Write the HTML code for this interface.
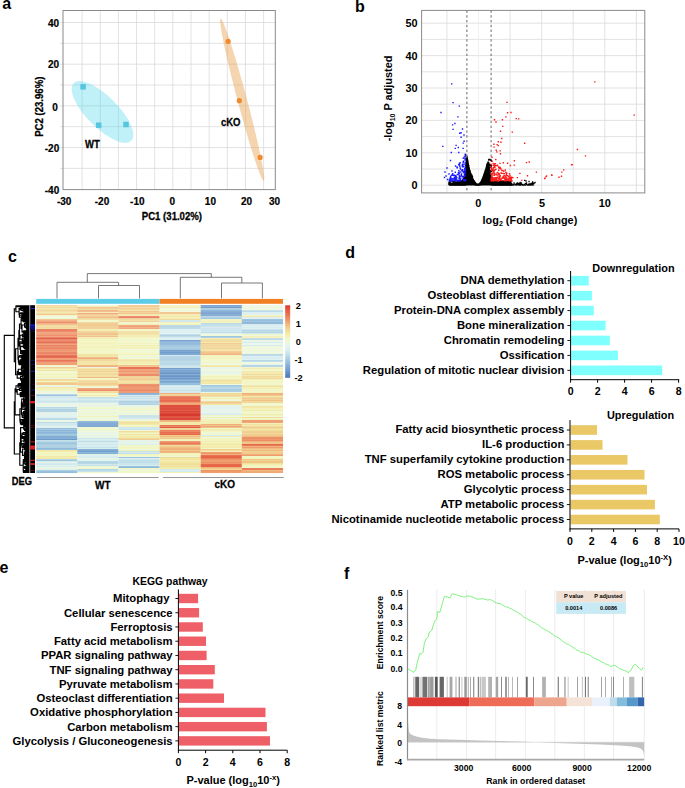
<!DOCTYPE html>
<html><head><meta charset="utf-8"><title>Figure</title>
<style>
html,body{margin:0;padding:0;background:#fff;width:685px;height:788px;overflow:hidden}
svg{display:block}
text{font-family:"Liberation Sans", sans-serif}
</style></head><body>
<svg width="685" height="788" viewBox="0 0 685 788">
<text x="2.20" y="8.80" font-size="16" text-anchor="start" font-weight="bold" fill="#000" >a</text>
<line x1="82.10" y1="10.50" x2="82.10" y2="189.60" stroke="#dadada" stroke-width="0.8" />
<line x1="100.25" y1="10.50" x2="100.25" y2="189.60" stroke="#dadada" stroke-width="0.8" />
<line x1="118.40" y1="10.50" x2="118.40" y2="189.60" stroke="#dadada" stroke-width="0.8" />
<line x1="136.55" y1="10.50" x2="136.55" y2="189.60" stroke="#dadada" stroke-width="0.8" />
<line x1="154.70" y1="10.50" x2="154.70" y2="189.60" stroke="#dadada" stroke-width="0.8" />
<line x1="172.85" y1="10.50" x2="172.85" y2="189.60" stroke="#dadada" stroke-width="0.8" />
<line x1="191.00" y1="10.50" x2="191.00" y2="189.60" stroke="#dadada" stroke-width="0.8" />
<line x1="209.15" y1="10.50" x2="209.15" y2="189.60" stroke="#dadada" stroke-width="0.8" />
<line x1="227.30" y1="10.50" x2="227.30" y2="189.60" stroke="#dadada" stroke-width="0.8" />
<line x1="245.45" y1="10.50" x2="245.45" y2="189.60" stroke="#dadada" stroke-width="0.8" />
<line x1="263.60" y1="10.50" x2="263.60" y2="189.60" stroke="#dadada" stroke-width="0.8" />
<line x1="60.00" y1="22.50" x2="275.30" y2="22.50" stroke="#dadada" stroke-width="0.8" />
<line x1="60.00" y1="43.34" x2="275.30" y2="43.34" stroke="#dadada" stroke-width="0.8" />
<line x1="60.00" y1="64.18" x2="275.30" y2="64.18" stroke="#dadada" stroke-width="0.8" />
<line x1="60.00" y1="85.02" x2="275.30" y2="85.02" stroke="#dadada" stroke-width="0.8" />
<line x1="60.00" y1="105.86" x2="275.30" y2="105.86" stroke="#dadada" stroke-width="0.8" />
<line x1="60.00" y1="126.70" x2="275.30" y2="126.70" stroke="#dadada" stroke-width="0.8" />
<line x1="60.00" y1="147.54" x2="275.30" y2="147.54" stroke="#dadada" stroke-width="0.8" />
<line x1="60.00" y1="168.38" x2="275.30" y2="168.38" stroke="#dadada" stroke-width="0.8" />
<rect x="63.0" y="10.5" width="212.30" height="179.10" fill="none" stroke="#8a8a8a" stroke-width="1"/>
<text x="59.20" y="26.50" font-size="10" text-anchor="end" font-weight="bold" fill="#000" stroke="#000" stroke-width="0.2">40</text>
<text x="59.20" y="68.20" font-size="10" text-anchor="end" font-weight="bold" fill="#000" stroke="#000" stroke-width="0.2">20</text>
<text x="57.90" y="110.50" font-size="10" text-anchor="end" font-weight="bold" fill="#000" stroke="#000" stroke-width="0.2">0</text>
<text x="59.20" y="151.50" font-size="10" text-anchor="end" font-weight="bold" fill="#000" stroke="#000" stroke-width="0.2">-20</text>
<text x="59.20" y="193.60" font-size="10" text-anchor="end" font-weight="bold" fill="#000" stroke="#000" stroke-width="0.2">-40</text>
<text x="64.20" y="205.20" font-size="10" text-anchor="middle" font-weight="bold" fill="#000" stroke="#000" stroke-width="0.2">-30</text>
<text x="102.00" y="205.20" font-size="10" text-anchor="middle" font-weight="bold" fill="#000" stroke="#000" stroke-width="0.2">-20</text>
<text x="137.30" y="205.20" font-size="10" text-anchor="middle" font-weight="bold" fill="#000" stroke="#000" stroke-width="0.2">-10</text>
<text x="172.40" y="205.20" font-size="10" text-anchor="middle" font-weight="bold" fill="#000" stroke="#000" stroke-width="0.2">0</text>
<text x="210.40" y="205.20" font-size="10" text-anchor="middle" font-weight="bold" fill="#000" stroke="#000" stroke-width="0.2">10</text>
<text x="246.50" y="205.20" font-size="10" text-anchor="middle" font-weight="bold" fill="#000" stroke="#000" stroke-width="0.2">20</text>
<text x="274.50" y="205.20" font-size="10" text-anchor="middle" font-weight="bold" fill="#000" stroke="#000" stroke-width="0.2">30</text>
<text x="0" y="0" transform="translate(141.80,220.00) scale(1,1.15)" font-size="9.6" text-anchor="start" font-weight="bold" fill="#000" stroke="#000" stroke-width="0.25">PC1 (31.02%)</text>
<text x="0" y="0" font-size="9.6" font-weight="bold" text-anchor="middle" transform="translate(43.0,106.7) rotate(-90) scale(1,1.13)" stroke="#000" stroke-width="0.25">PC2 (23.96%)</text>
<ellipse cx="102.5" cy="112" rx="40.8" ry="15.6" transform="rotate(45 102.5 112)" fill="#48d6ea" fill-opacity="0.34"/>
<rect x="80.35" y="84.05" width="5.50" height="5.50" fill="#56c6df" />
<rect x="95.95" y="122.45" width="5.50" height="5.50" fill="#56c6df" />
<rect x="123.25" y="121.75" width="5.50" height="5.50" fill="#56c6df" />
<text x="0" y="0" transform="translate(85.10,147.80) scale(1,1.15)" font-size="9.5" text-anchor="start" font-weight="bold" fill="#000" stroke="#000" stroke-width="0.25">WT</text>
<ellipse cx="242.2" cy="99.8" rx="84" ry="4.7" transform="rotate(75.1 242.2 99.8)" fill="#e8a050" fill-opacity="0.45"/>
<circle cx="228.1" cy="41.3" r="2.6" fill="#f08a2c"/>
<circle cx="239.3" cy="100.7" r="2.6" fill="#f08a2c"/>
<circle cx="260.1" cy="157.4" r="2.6" fill="#f08a2c"/>
<text x="0" y="0" transform="translate(221.00,126.00) scale(1,1.15)" font-size="9.5" text-anchor="start" font-weight="bold" fill="#000" stroke="#000" stroke-width="0.25">cKO</text>
<text x="355.00" y="11.70" font-size="16" text-anchor="start" font-weight="bold" fill="#000" >b</text>
<line x1="421.60" y1="185.20" x2="644.80" y2="185.20" stroke="#dadada" stroke-width="0.8" />
<line x1="421.60" y1="169.00" x2="644.80" y2="169.00" stroke="#dadada" stroke-width="0.8" />
<line x1="421.60" y1="152.80" x2="644.80" y2="152.80" stroke="#dadada" stroke-width="0.8" />
<line x1="421.60" y1="136.60" x2="644.80" y2="136.60" stroke="#dadada" stroke-width="0.8" />
<line x1="421.60" y1="120.40" x2="644.80" y2="120.40" stroke="#dadada" stroke-width="0.8" />
<line x1="421.60" y1="104.20" x2="644.80" y2="104.20" stroke="#dadada" stroke-width="0.8" />
<line x1="421.60" y1="88.00" x2="644.80" y2="88.00" stroke="#dadada" stroke-width="0.8" />
<line x1="421.60" y1="71.80" x2="644.80" y2="71.80" stroke="#dadada" stroke-width="0.8" />
<line x1="421.60" y1="55.60" x2="644.80" y2="55.60" stroke="#dadada" stroke-width="0.8" />
<line x1="421.60" y1="39.40" x2="644.80" y2="39.40" stroke="#dadada" stroke-width="0.8" />
<line x1="421.60" y1="23.20" x2="644.80" y2="23.20" stroke="#dadada" stroke-width="0.8" />
<line x1="446.93" y1="10.40" x2="446.93" y2="192.90" stroke="#dadada" stroke-width="0.8" />
<line x1="478.50" y1="10.40" x2="478.50" y2="192.90" stroke="#ececec" stroke-width="0.8" />
<line x1="510.07" y1="10.40" x2="510.07" y2="192.90" stroke="#dadada" stroke-width="0.8" />
<line x1="541.65" y1="10.40" x2="541.65" y2="192.90" stroke="#dadada" stroke-width="0.8" />
<line x1="573.23" y1="10.40" x2="573.23" y2="192.90" stroke="#dadada" stroke-width="0.8" />
<line x1="604.80" y1="10.40" x2="604.80" y2="192.90" stroke="#dadada" stroke-width="0.8" />
<line x1="636.38" y1="10.40" x2="636.38" y2="192.90" stroke="#dadada" stroke-width="0.8" />
<line x1="466.90" y1="10.40" x2="466.90" y2="192.90" stroke="#666" stroke-width="1" stroke-dasharray="2.4 2.4"/>
<line x1="491.10" y1="10.40" x2="491.10" y2="192.90" stroke="#666" stroke-width="1" stroke-dasharray="2.4 2.4"/>
<rect x="421.6" y="10.4" width="223.20" height="182.50" fill="none" stroke="#8a8a8a" stroke-width="1"/>
<text x="417.50" y="189.10" font-size="10.9" text-anchor="end" font-weight="bold" fill="#000" >0</text>
<text x="417.50" y="156.70" font-size="10.9" text-anchor="end" font-weight="bold" fill="#000" >10</text>
<text x="417.50" y="124.30" font-size="10.9" text-anchor="end" font-weight="bold" fill="#000" >20</text>
<text x="417.50" y="91.90" font-size="10.9" text-anchor="end" font-weight="bold" fill="#000" >30</text>
<text x="417.50" y="59.50" font-size="10.9" text-anchor="end" font-weight="bold" fill="#000" >40</text>
<text x="417.50" y="27.10" font-size="10.9" text-anchor="end" font-weight="bold" fill="#000" >50</text>
<text x="478.20" y="206.60" font-size="10.9" text-anchor="middle" font-weight="bold" fill="#000" >0</text>
<text x="542.00" y="206.60" font-size="10.9" text-anchor="middle" font-weight="bold" fill="#000" >5</text>
<text x="604.80" y="206.60" font-size="10.9" text-anchor="middle" font-weight="bold" fill="#000" >10</text>
<text x="482.6" y="224" font-size="10.9" font-weight="bold">log<tspan font-size="7" dy="2.2">2</tspan><tspan dy="-2.2"> (Fold change)</tspan></text>
<text x="0" y="0" font-size="10.9" font-weight="bold" text-anchor="middle" transform="translate(392.4,98.5) rotate(-90)">-log<tspan font-size="7" dy="2.2">10</tspan><tspan dy="-2.2"> P adjusted</tspan></text>
<polygon points="449,185.6 450.5,183 455,182.2 460,181.2 462.5,179.2 464,175 465,169 465.8,162 466.6,157 467.4,155.5 468.4,160.5 469.5,167 470.6,171.5 472.2,176 474.2,180.2 476.3,183.2 478.6,183.6 480.6,181.6 482.2,177.5 483.8,173 485.3,168.5 486.5,163.5 488,161 489.5,162.5 490.2,170 491,177 495,181.2 503,181.8 509,182.8 512,184 512,185.6" fill="#000"/>
<path d="M486.7 171.0h1.3M491.5 183.3h1.3M463.9 183.7h1.3M501.9 182.2h1.3M456.2 184.5h1.3M455.9 182.1h1.3M507.3 185.2h1.3M531.9 183.8h1.3M500.6 184.9h1.3M449.4 183.6h1.3M453.2 184.9h1.3M468.8 183.7h1.3M487.7 171.1h1.3M502.8 183.7h1.3M504.6 183.9h1.3M471.9 176.8h1.3M533.1 183.7h1.3M475.0 184.5h1.3M472.8 184.2h1.3M529.8 185.2h1.3M466.0 159.5h1.3M488.2 159.6h1.3M482.1 184.0h1.3M501.8 182.3h1.3M471.2 183.3h1.3M476.5 184.9h1.3M469.2 181.9h1.3M453.3 182.2h1.3M463.3 183.4h1.3M486.3 179.0h1.3M510.6 185.0h1.3M503.0 185.0h1.3M484.0 181.0h1.3M471.2 175.1h1.3M481.8 179.3h1.3M502.9 185.1h1.3M470.2 174.3h1.3M476.2 185.0h1.3M454.4 185.1h1.3M497.8 184.7h1.3M499.4 184.2h1.3M486.8 164.2h1.3M489.4 167.6h1.3M461.3 181.6h1.3M464.4 182.5h1.3M529.2 184.0h1.3M484.1 182.6h1.3M451.5 181.2h1.3M468.5 170.7h1.3M470.1 173.5h1.3M499.0 184.5h1.3M463.1 182.6h1.3M454.0 184.7h1.3M495.9 181.9h1.3M500.5 184.6h1.3M449.6 184.6h1.3M486.2 182.5h1.3M463.2 184.3h1.3M496.9 185.0h1.3M479.0 183.8h1.3M531.8 183.7h1.3M498.0 185.0h1.3M451.2 185.2h1.3M525.8 182.8h1.3M450.0 183.1h1.3M489.3 164.4h1.3M475.4 183.6h1.3M454.6 183.5h1.3M511.0 183.6h1.3M508.2 182.2h1.3M506.6 181.6h1.3M515.6 184.1h1.3M501.4 184.2h1.3M497.8 183.2h1.3M455.0 183.0h1.3M532.9 183.6h1.3M481.3 180.8h1.3M497.7 184.0h1.3M499.4 183.8h1.3M467.8 168.9h1.3M490.6 166.8h1.3M449.1 184.5h1.3M506.0 184.8h1.3M462.6 181.6h1.3M504.4 184.0h1.3M504.9 184.8h1.3M484.9 172.1h1.3M526.1 184.6h1.3M497.9 184.5h1.3M459.8 183.7h1.3M519.5 183.6h1.3M462.6 183.9h1.3M471.6 182.1h1.3M483.5 177.4h1.3M490.3 173.6h1.3M519.7 184.4h1.3M454.5 185.2h1.3M508.6 183.4h1.3M474.5 182.8h1.3M449.8 185.0h1.3M486.9 183.5h1.3M460.2 185.2h1.3M501.8 183.9h1.3M501.9 183.0h1.3M517.0 183.7h1.3M465.2 166.9h1.3M463.4 185.2h1.3M488.4 164.7h1.3M463.4 184.6h1.3M477.6 185.1h1.3M492.5 183.2h1.3M515.7 185.1h1.3M527.7 185.1h1.3M486.8 169.6h1.3M496.7 181.7h1.3M516.1 184.4h1.3M503.7 184.8h1.3M509.7 182.1h1.3M502.9 182.6h1.3M466.4 160.8h1.3M531.8 184.2h1.3M525.7 184.7h1.3M455.2 184.0h1.3M495.1 182.4h1.3M489.7 183.1h1.3M476.7 185.0h1.3M460.1 185.0h1.3M492.2 182.6h1.3M519.8 182.8h1.3M490.2 160.2h1.3M455.5 184.8h1.3M493.1 184.5h1.3M510.3 183.0h1.3M492.7 181.9h1.3M495.9 184.5h1.3M480.7 181.5h1.3M520.7 184.2h1.3M497.0 184.8h1.3M493.9 183.7h1.3M499.8 185.2h1.3M482.3 178.5h1.3M496.2 183.8h1.3M507.1 185.1h1.3M494.1 184.1h1.3M529.7 184.8h1.3M488.5 179.1h1.3M485.1 171.4h1.3M475.2 184.6h1.3M500.8 181.5h1.3M459.2 182.3h1.3M450.1 184.8h1.3M467.5 168.4h1.3M475.6 184.6h1.3M501.0 185.1h1.3M510.5 185.0h1.3M491.7 184.7h1.3M465.0 165.5h1.3M485.4 176.7h1.3M483.4 178.3h1.3M461.8 184.8h1.3M502.0 183.1h1.3M493.3 181.9h1.3M500.3 181.9h1.3M468.0 168.8h1.3M517.3 184.7h1.3M475.0 183.3h1.3M466.8 160.5h1.3M468.6 170.6h1.3M470.3 182.7h1.3M482.5 178.8h1.3M449.7 184.8h1.3M506.3 181.5h1.3M491.3 182.4h1.3M491.0 165.3h1.3M464.3 185.1h1.3M457.2 185.2h1.3M495.2 183.6h1.3M496.7 185.0h1.3M463.9 184.8h1.3M519.8 182.9h1.3M456.3 185.1h1.3M488.0 168.9h1.3M484.8 174.7h1.3M449.3 182.7h1.3M486.9 167.5h1.3M482.7 182.4h1.3M462.2 183.7h1.3M449.5 181.6h1.3M516.5 183.1h1.3M501.8 184.1h1.3M499.3 183.7h1.3M531.9 184.9h1.3M525.9 183.4h1.3M524.6 183.7h1.3M513.6 184.5h1.3M509.8 185.1h1.3M477.3 185.2h1.3M449.1 184.3h1.3M502.6 183.1h1.3M468.0 165.7h1.3M505.0 184.4h1.3M504.4 183.4h1.3M493.6 184.2h1.3M533.4 183.7h1.3M513.1 185.2h1.3M500.6 182.5h1.3M470.0 178.1h1.3M452.5 184.8h1.3M480.2 184.5h1.3M469.6 171.2h1.3M495.1 183.7h1.3M533.0 183.3h1.3M454.7 183.3h1.3M488.4 177.7h1.3M490.4 166.8h1.3M453.2 181.3h1.3M484.0 177.2h1.3M499.1 184.3h1.3M472.5 180.1h1.3M496.0 184.6h1.3M509.3 184.5h1.3M449.4 184.7h1.3M451.8 184.9h1.3M524.7 185.2h1.3M532.5 185.1h1.3M488.9 159.8h1.3M468.9 174.4h1.3M528.1 184.4h1.3M531.6 184.0h1.3M458.0 183.1h1.3M487.0 177.8h1.3M452.6 183.6h1.3M458.8 184.0h1.3M505.1 183.9h1.3M470.5 176.9h1.3M483.9 174.9h1.3M493.4 181.0h1.3M529.4 184.9h1.3M457.9 181.6h1.3M515.0 184.6h1.3M471.3 177.6h1.3M496.3 183.3h1.3M502.1 182.4h1.3M464.4 184.7h1.3M531.7 183.1h1.3M451.5 185.1h1.3M471.3 179.7h1.3M501.3 185.1h1.3M494.3 185.1h1.3M455.5 182.9h1.3M495.1 183.1h1.3M480.0 183.4h1.3M466.1 172.3h1.3M511.7 185.1h1.3M458.4 182.1h1.3M501.3 182.4h1.3M466.3 170.8h1.3M470.2 173.9h1.3M479.6 183.4h1.3M494.9 182.5h1.3M479.6 184.7h1.3M455.2 183.4h1.3M489.5 165.3h1.3M473.6 181.5h1.3M454.7 184.8h1.3M504.6 185.1h1.3M474.1 182.3h1.3M507.3 184.6h1.3M460.4 184.3h1.3M510.1 184.3h1.3M458.2 182.7h1.3M496.7 181.5h1.3M528.3 184.4h1.3M475.2 184.3h1.3M527.9 184.9h1.3M479.0 184.5h1.3M479.1 184.3h1.3M481.2 183.5h1.3M496.2 182.2h1.3M494.3 182.0h1.3M496.1 184.9h1.3M512.9 184.8h1.3M450.1 183.6h1.3M494.6 183.4h1.3M530.6 183.3h1.3M453.6 183.5h1.3M455.1 182.5h1.3M502.2 185.0h1.3M511.8 184.9h1.3M467.0 165.3h1.3M492.6 182.4h1.3M481.8 182.1h1.3M530.7 184.3h1.3M494.0 182.6h1.3M508.5 181.5h1.3M483.2 176.4h1.3M505.0 181.9h1.3M516.9 183.0h1.3M529.8 184.2h1.3M508.7 182.2h1.3M484.1 178.2h1.3M460.6 182.5h1.3M462.5 184.8h1.3M484.4 179.4h1.3M474.5 184.6h1.3M503.4 182.3h1.3M463.5 185.1h1.3M487.3 169.2h1.3M457.4 184.9h1.3M466.7 176.1h1.3M509.3 183.3h1.3M467.3 178.2h1.3M472.1 182.9h1.3M494.9 182.1h1.3M489.0 175.1h1.3M523.8 184.7h1.3M494.8 181.3h1.3M489.3 176.2h1.3M452.4 181.3h1.3M493.1 183.6h1.3M471.6 176.1h1.3M504.2 184.7h1.3M449.1 183.8h1.3M479.8 182.9h1.3M509.0 183.2h1.3M461.6 184.9h1.3M475.6 184.7h1.3M502.5 181.0h1.3M470.9 178.1h1.3M461.0 182.4h1.3M448.3 182.1h1.3M520.3 185.1h1.3M471.2 177.1h1.3M456.5 183.8h1.3M488.1 160.1h1.3M498.2 181.9h1.3M474.1 182.1h1.3M483.7 174.3h1.3M455.9 182.0h1.3M465.9 167.0h1.3M493.0 184.9h1.3M474.7 184.8h1.3M474.2 183.2h1.3M509.1 184.3h1.3M506.7 185.1h1.3M481.8 181.4h1.3M530.6 183.8h1.3M449.2 184.2h1.3M508.7 184.7h1.3M496.3 183.9h1.3M449.1 181.0h1.3M500.7 184.5h1.3M480.2 183.0h1.3M473.6 183.1h1.3M481.6 180.5h1.3M470.0 180.8h1.3M510.5 184.4h1.3M509.9 184.4h1.3M460.2 185.1h1.3M505.9 182.7h1.3M463.5 184.1h1.3M455.9 184.7h1.3M461.6 185.0h1.3M482.9 183.7h1.3M491.8 183.0h1.3M513.5 184.6h1.3M476.4 185.0h1.3M449.5 184.1h1.3M507.8 181.1h1.3M515.5 184.0h1.3M449.8 184.4h1.3M477.3 185.2h1.3M457.2 184.2h1.3M491.6 182.3h1.3M518.5 185.0h1.3M513.5 184.1h1.3M478.2 184.8h1.3M460.3 182.7h1.3M509.2 182.0h1.3M465.0 155.6h1.3M501.6 184.8h1.3M455.3 184.7h1.3M497.3 182.7h1.3M476.2 184.7h1.3M479.0 184.4h1.3M458.7 181.2h1.3M459.7 181.6h1.3M494.5 183.4h1.3M495.9 184.6h1.3M525.7 183.3h1.3M499.4 185.0h1.3M497.1 182.0h1.3M464.0 183.5h1.3M454.7 185.2h1.3M463.5 181.1h1.3M528.3 184.8h1.3M505.4 182.5h1.3M480.7 182.2h1.3M465.2 167.1h1.3M460.4 184.2h1.3M496.7 184.9h1.3M492.5 184.6h1.3M496.6 184.4h1.3M502.9 185.2h1.3M505.4 185.0h1.3M530.0 184.4h1.3M483.2 177.8h1.3M506.9 182.4h1.3M533.0 183.2h1.3M483.0 179.8h1.3M496.4 181.6h1.3M493.0 183.6h1.3M485.0 170.7h1.3M475.5 185.0h1.3M510.0 181.6h1.3M510.6 183.3h1.3M498.8 185.1h1.3M458.8 183.9h1.3M491.0 171.6h1.3M452.6 182.8h1.3M493.0 184.7h1.3M474.3 183.5h1.3M468.3 182.3h1.3M525.9 183.8h1.3M494.0 181.3h1.3M448.2 184.7h1.3M473.7 183.2h1.3M453.5 181.6h1.3M478.6 184.6h1.3M452.1 185.2h1.3M490.7 160.5h1.3M465.8 173.0h1.3M526.8 185.0h1.3M488.5 177.6h1.3M523.2 185.0h1.3M502.1 184.8h1.3M457.2 182.6h1.3M474.9 183.1h1.3M522.3 185.1h1.3M507.5 181.4h1.3M486.1 182.0h1.3M467.2 175.1h1.3M508.7 184.8h1.3M463.6 184.7h1.3M504.8 182.2h1.3M479.9 183.1h1.3M467.7 176.0h1.3M527.2 184.8h1.3M502.7 185.1h1.3M493.2 183.6h1.3M452.0 183.2h1.3M472.4 182.5h1.3M472.5 179.5h1.3M469.1 178.5h1.3M494.9 184.9h1.3M524.6 185.2h1.3M487.5 165.3h1.3M481.0 180.6h1.3M490.8 177.4h1.3M495.6 183.0h1.3M478.8 184.3h1.3M491.3 181.9h1.3M506.5 183.6h1.3M500.0 184.7h1.3M485.7 170.3h1.3M515.2 184.9h1.3M489.9 176.2h1.3M497.6 183.7h1.3M451.2 183.3h1.3M509.1 183.4h1.3M461.1 185.2h1.3M490.5 170.7h1.3M485.8 178.1h1.3M494.5 182.2h1.3M468.5 180.4h1.3M474.7 184.9h1.3M475.0 183.7h1.3M493.0 184.6h1.3M498.4 185.1h1.3M469.9 181.3h1.3M507.1 182.0h1.3M483.2 180.2h1.3M466.6 160.5h1.3M451.8 183.8h1.3M513.1 185.1h1.3M487.0 167.1h1.3M451.5 184.7h1.3M481.7 182.5h1.3M484.4 183.0h1.3M451.1 181.0h1.3M513.2 184.9h1.3M469.8 175.7h1.3M468.8 175.0h1.3M476.9 185.1h1.3M500.2 185.2h1.3M482.5 179.0h1.3M453.2 184.4h1.3M507.4 181.8h1.3M498.5 181.7h1.3M487.6 172.4h1.3M477.8 185.1h1.3M495.0 184.9h1.3M465.5 175.2h1.3M488.0 173.8h1.3M486.3 165.5h1.3M506.1 181.8h1.3M465.6 170.3h1.3M454.4 182.8h1.3M479.1 184.6h1.3M449.8 184.9h1.3M470.5 178.9h1.3M526.9 184.8h1.3M479.0 184.8h1.3M513.4 183.0h1.3M449.9 184.4h1.3M480.9 184.4h1.3M452.9 184.2h1.3M468.5 183.2h1.3M461.0 183.3h1.3M450.9 184.5h1.3M484.3 176.5h1.3M459.8 182.7h1.3M470.4 175.2h1.3M505.0 185.0h1.3M465.6 173.2h1.3M508.9 184.1h1.3M481.1 180.6h1.3M467.4 175.8h1.3M477.6 185.2h1.3M451.6 185.2h1.3M501.9 183.4h1.3M517.1 184.8h1.3M505.3 181.5h1.3M466.6 165.7h1.3M505.0 181.3h1.3M502.1 185.1h1.3M484.6 177.8h1.3M453.3 184.2h1.3M476.1 184.8h1.3M472.0 183.0h1.3M482.5 180.3h1.3M462.4 182.9h1.3M468.6 181.8h1.3M477.3 185.2h1.3M461.0 183.3h1.3M508.0 183.5h1.3M507.9 185.2h1.3M481.5 182.2h1.3M453.5 184.1h1.3M452.8 183.7h1.3M498.1 183.8h1.3M475.9 184.9h1.3M450.2 184.3h1.3M470.5 176.0h1.3M464.0 183.8h1.3M500.6 181.3h1.3M479.1 184.1h1.3M528.5 183.9h1.3M501.1 184.1h1.3M483.6 180.6h1.3M518.9 184.6h1.3M459.8 183.7h1.3M474.5 183.8h1.3M464.6 184.7h1.3M506.2 184.7h1.3M448.2 183.5h1.3M481.8 182.8h1.3M490.3 166.0h1.3M494.9 183.1h1.3M496.0 182.0h1.3M477.7 185.0h1.3M474.9 183.4h1.3M507.5 182.8h1.3M530.3 185.0h1.3M501.2 183.8h1.3M496.2 184.3h1.3M472.5 179.6h1.3M493.7 184.7h1.3M469.4 178.2h1.3M463.3 183.6h1.3M458.9 185.1h1.3M454.0 185.1h1.3M508.3 185.0h1.3M486.7 167.6h1.3M489.2 177.9h1.3M522.0 185.2h1.3M469.8 176.4h1.3M509.2 184.7h1.3M509.2 184.4h1.3M476.6 185.0h1.3M520.0 184.1h1.3M484.0 175.4h1.3M501.3 182.0h1.3M480.3 182.5h1.3M467.9 178.9h1.3M449.3 183.3h1.3M528.4 185.1h1.3M506.8 184.1h1.3M502.0 184.1h1.3M527.7 185.2h1.3M509.0 185.0h1.3M451.8 184.6h1.3M510.5 181.0h1.3M458.4 184.4h1.3M450.4 183.5h1.3M489.4 172.2h1.3M474.5 182.8h1.3M481.6 180.9h1.3M513.4 184.6h1.3M507.3 183.5h1.3M463.1 185.1h1.3M489.8 179.3h1.3M475.8 185.1h1.3M496.4 185.0h1.3M501.5 184.6h1.3M467.6 172.2h1.3M479.4 184.4h1.3M452.5 185.1h1.3M454.9 184.9h1.3M489.4 159.3h1.3M465.4 158.0h1.3M489.5 171.2h1.3M453.1 183.5h1.3M504.2 183.1h1.3M471.8 176.9h1.3M521.9 184.4h1.3M519.2 185.0h1.3M450.5 184.9h1.3M458.3 185.1h1.3M478.8 184.2h1.3M474.6 183.5h1.3M449.1 184.8h1.3M493.1 182.1h1.3M515.7 184.5h1.3M516.6 183.5h1.3M508.3 184.7h1.3M497.3 184.7h1.3M481.3 182.5h1.3M504.2 182.1h1.3M479.3 183.9h1.3M478.4 184.9h1.3M456.2 184.4h1.3M506.2 184.9h1.3M457.2 185.0h1.3M478.0 185.0h1.3M449.0 183.7h1.3M482.6 181.4h1.3M494.0 181.3h1.3M465.6 158.5h1.3M475.5 184.1h1.3M457.4 181.1h1.3M484.8 170.6h1.3M466.9 172.3h1.3M508.4 184.9h1.3M471.5 178.0h1.3M463.8 184.3h1.3M502.3 184.2h1.3M503.1 184.8h1.3M500.7 181.7h1.3M521.2 184.3h1.3M496.6 185.0h1.3M519.6 184.4h1.3M504.9 184.1h1.3M481.0 183.5h1.3M499.4 183.4h1.3M492.1 185.2h1.3M501.7 183.9h1.3M498.8 183.3h1.3M488.1 159.4h1.3M511.0 184.5h1.3M468.1 167.7h1.3M503.5 181.4h1.3M518.9 184.3h1.3M522.3 184.9h1.3M493.9 181.8h1.3M464.9 172.6h1.3M503.0 185.1h1.3M495.5 182.3h1.3M490.0 175.6h1.3M516.4 183.4h1.3M495.0 181.6h1.3M479.4 184.8h1.3M451.3 184.3h1.3M521.9 185.1h1.3M463.7 184.2h1.3M520.6 183.0h1.3M454.3 181.1h1.3M465.8 164.6h1.3M522.9 185.0h1.3M505.2 184.0h1.3M449.5 184.4h1.3M475.1 183.8h1.3M471.9 179.3h1.3M507.4 184.9h1.3M459.1 182.8h1.3M487.9 179.0h1.3M458.1 181.4h1.3M500.2 184.3h1.3M464.9 154.5h1.3M507.1 182.5h1.3M478.9 184.6h1.3M483.0 182.7h1.3M502.0 184.0h1.3M487.1 171.1h1.3M508.2 184.7h1.3M497.6 184.6h1.3M521.0 184.4h1.3M511.5 184.4h1.3M453.6 184.1h1.3M472.2 180.8h1.3M507.4 182.9h1.3M469.0 176.2h1.3M459.4 181.6h1.3M469.6 177.1h1.3M477.3 185.2h1.3M494.7 185.1h1.3M479.2 184.4h1.3M509.8 182.9h1.3M477.5 185.1h1.3M502.1 183.8h1.3M479.0 184.3h1.3M475.1 183.8h1.3M499.8 181.2h1.3M531.4 184.6h1.3M518.8 183.7h1.3M487.6 172.3h1.3M504.1 184.8h1.3M479.7 184.6h1.3M481.8 179.8h1.3M455.3 184.9h1.3M503.5 183.1h1.3M517.3 183.4h1.3M458.4 183.8h1.3M449.5 181.8h1.3M528.7 185.2h1.3M478.1 184.9h1.3M493.7 185.0h1.3M491.4 185.0h1.3M496.6 185.0h1.3M455.7 183.7h1.3M473.2 180.8h1.3M469.2 176.5h1.3M452.8 184.8h1.3M486.7 171.1h1.3M487.3 164.2h1.3M457.1 181.9h1.3M461.4 181.2h1.3M492.9 184.1h1.3M500.4 181.8h1.3M449.1 184.9h1.3M517.9 183.6h1.3M461.5 183.6h1.3M450.6 185.0h1.3M473.8 181.2h1.3M503.0 181.9h1.3M452.1 184.1h1.3M454.8 184.6h1.3M457.7 181.5h1.3M476.2 184.8h1.3M503.9 181.7h1.3M490.9 161.1h1.3M481.8 182.4h1.3M479.5 184.0h1.3M524.0 180.4h1.3M532.0 182.0h1.3M528.4 181.5h1.3M519.4 182.5h1.3M525.4 181.0h1.3M534.4 182.5h1.3" stroke="#000" stroke-width="1.3" fill="none"/>
<path d="M460.1 176.1h1.4M460.9 173.9h1.4M464.7 159.7h1.4M464.6 169.8h1.4M458.9 175.9h1.4M463.5 180.0h1.4M461.7 176.5h1.4M460.0 178.4h1.4M454.7 176.6h1.4M464.8 173.2h1.4M449.3 181.0h1.4M458.0 164.8h1.4M461.8 169.8h1.4M461.8 176.7h1.4M457.7 173.0h1.4M462.5 172.0h1.4M459.5 168.0h1.4M464.7 180.0h1.4M463.2 177.0h1.4M453.7 177.8h1.4M452.1 178.8h1.4M462.8 166.7h1.4M464.5 154.4h1.4M452.8 179.1h1.4M462.5 162.9h1.4M453.8 175.2h1.4M464.7 162.2h1.4M464.7 166.8h1.4M458.8 164.5h1.4M457.1 180.9h1.4M450.2 177.6h1.4M458.3 181.0h1.4M455.0 177.3h1.4M456.3 166.9h1.4M450.6 180.8h1.4M454.0 177.5h1.4M454.7 177.9h1.4M460.6 174.4h1.4M464.4 175.5h1.4M455.1 180.7h1.4M464.4 160.1h1.4M456.6 174.6h1.4M464.4 179.6h1.4M462.5 158.4h1.4M458.7 164.8h1.4M463.6 173.5h1.4M459.1 166.3h1.4M464.3 158.8h1.4M460.2 180.8h1.4M460.9 175.5h1.4M456.4 167.8h1.4M459.8 169.1h1.4M461.5 165.1h1.4M464.4 163.2h1.4M464.0 168.5h1.4M463.7 175.1h1.4M464.0 174.9h1.4M458.1 174.1h1.4M461.5 170.7h1.4M452.5 178.9h1.4M458.2 174.7h1.4M448.9 180.3h1.4M455.9 179.2h1.4M463.1 164.9h1.4M458.4 178.3h1.4M464.6 160.1h1.4M461.7 166.7h1.4M460.8 170.1h1.4M458.7 163.5h1.4M450.8 179.0h1.4M460.0 178.4h1.4M454.7 180.5h1.4M462.6 161.8h1.4M464.7 164.4h1.4M458.5 173.2h1.4M462.3 179.3h1.4M449.7 178.0h1.4M453.4 180.6h1.4M453.9 179.7h1.4M463.7 170.2h1.4M457.7 180.1h1.4M454.4 175.6h1.4M451.1 175.2h1.4M456.1 177.6h1.4M449.7 178.3h1.4M462.8 161.3h1.4M455.2 179.0h1.4M463.2 180.9h1.4M459.1 178.2h1.4M462.8 177.4h1.4M464.3 171.3h1.4M463.0 176.7h1.4M462.9 171.4h1.4M451.7 180.4h1.4M452.1 174.6h1.4M457.7 173.9h1.4M455.1 175.7h1.4M456.7 167.6h1.4M454.1 179.3h1.4M464.7 156.0h1.4M461.9 164.5h1.4M463.4 172.6h1.4M461.8 166.3h1.4M449.9 179.2h1.4M458.6 176.9h1.4M463.4 157.3h1.4M464.4 156.3h1.4M456.7 180.6h1.4M451.0 180.7h1.4M458.6 180.1h1.4M448.7 180.5h1.4M451.8 180.8h1.4M456.6 180.6h1.4M464.7 168.5h1.4M448.8 179.2h1.4M452.2 175.2h1.4M459.4 180.5h1.4M459.3 179.2h1.4M459.3 176.5h1.4M459.8 178.9h1.4M455.7 177.0h1.4M460.0 180.4h1.4M460.0 172.1h1.4M449.1 179.5h1.4M464.2 176.0h1.4M462.2 166.6h1.4M450.0 176.3h1.4M449.7 177.1h1.4M452.1 173.7h1.4M464.8 170.9h1.4M458.1 170.8h1.4M457.7 172.6h1.4M450.2 180.8h1.4M459.4 162.8h1.4M464.7 179.7h1.4M451.9 173.8h1.4M464.8 180.8h1.4M452.8 175.6h1.4M459.4 172.0h1.4M454.6 172.2h1.4M451.0 83.9h1.4M452.4 102.6h1.4M458.6 106.1h1.4M440.3 112.5h1.4M457.2 116.9h1.4M451.9 124.9h1.4M454.2 123.5h1.4M452.4 129.4h1.4M459.0 133.3h1.4M460.4 132.8h1.4M460.4 137.2h1.4M442.1 146.4h1.4M463.4 141.3h1.4M462.5 143.1h1.4M455.4 145.4h1.4M454.6 148.4h1.4M457.6 147.5h1.4M450.6 152.5h1.4M458.1 152.5h1.4M462.5 148.4h1.4M461.8 129.0h1.4M463.3 135.0h1.4M449.8 160.5h1.4M446.3 168.0h1.4M444.3 172.0h1.4M445.3 176.0h1.4M443.8 177.5h1.4M448.3 174.0h1.4M451.3 171.0h1.4M454.8 166.0h1.4M446.8 179.5h1.4" stroke="#1a1aff" stroke-width="1.4" fill="none"/>
<path d="M490.4 180.7h1.4M506.0 173.0h1.4M507.1 179.2h1.4M495.1 177.8h1.4M490.5 167.2h1.4M493.7 173.2h1.4M499.2 178.6h1.4M502.8 177.9h1.4M493.2 165.7h1.4M492.3 180.1h1.4M493.6 175.3h1.4M505.7 179.5h1.4M493.3 171.5h1.4M493.7 174.5h1.4M493.6 166.0h1.4M492.4 179.1h1.4M494.4 178.0h1.4M504.2 175.8h1.4M505.9 177.9h1.4M491.0 167.6h1.4M493.4 179.4h1.4M496.7 165.3h1.4M495.8 177.8h1.4M509.3 175.5h1.4M496.1 180.3h1.4M505.9 175.3h1.4M495.1 169.2h1.4M496.0 178.7h1.4M500.8 173.2h1.4M498.0 170.2h1.4M490.5 174.1h1.4M496.0 180.8h1.4M509.4 180.7h1.4M492.8 165.4h1.4M510.7 177.1h1.4M495.2 165.7h1.4M491.8 169.4h1.4M510.3 180.6h1.4M491.7 170.3h1.4M508.5 177.2h1.4M510.4 179.7h1.4M495.8 180.4h1.4M493.9 164.5h1.4M491.0 179.6h1.4M495.3 180.9h1.4M494.5 179.8h1.4M491.6 173.8h1.4M499.5 175.5h1.4M505.1 177.8h1.4M510.3 180.9h1.4M493.1 180.7h1.4M494.6 169.6h1.4M509.7 179.2h1.4M492.1 177.6h1.4M500.2 179.1h1.4M505.9 173.0h1.4M497.7 174.3h1.4M507.4 178.9h1.4M492.5 163.4h1.4M511.2 181.0h1.4M505.1 178.9h1.4M490.8 179.8h1.4M492.3 169.0h1.4M492.9 181.0h1.4M493.0 167.8h1.4M498.5 173.7h1.4M497.8 180.0h1.4M490.5 177.9h1.4M490.7 178.6h1.4M501.4 178.5h1.4M498.0 174.0h1.4M494.7 177.6h1.4M508.5 178.4h1.4M496.7 175.1h1.4M497.7 178.4h1.4M509.4 180.4h1.4M510.0 177.1h1.4M508.4 180.6h1.4M498.8 167.1h1.4M494.2 179.9h1.4M504.1 180.0h1.4M500.5 180.3h1.4M510.3 180.4h1.4M491.2 169.8h1.4M495.3 174.3h1.4M498.5 168.3h1.4M498.9 178.0h1.4M490.4 174.1h1.4M493.8 173.5h1.4M501.7 177.6h1.4M491.2 174.3h1.4M498.2 173.8h1.4M511.0 180.4h1.4M497.3 180.7h1.4M506.1 180.2h1.4M506.9 175.8h1.4M493.6 165.3h1.4M498.7 177.3h1.4M499.9 168.8h1.4M498.3 176.5h1.4M494.2 167.4h1.4M498.6 178.4h1.4M492.6 179.3h1.4M507.1 175.8h1.4M511.3 177.5h1.4M503.1 173.6h1.4M503.8 173.8h1.4M506.2 180.5h1.4M506.5 179.8h1.4M493.4 164.7h1.4M490.5 173.8h1.4M495.2 169.2h1.4M501.2 170.5h1.4M509.9 178.5h1.4M490.9 170.2h1.4M491.4 161.3h1.4M508.1 180.0h1.4M492.5 170.2h1.4M505.0 172.1h1.4M501.5 180.6h1.4M504.2 180.9h1.4M508.0 176.6h1.4M505.7 174.1h1.4M500.2 169.1h1.4M501.9 177.2h1.4M496.1 177.9h1.4M490.5 179.9h1.4M506.0 180.2h1.4M502.3 173.4h1.4M503.3 177.4h1.4M494.7 178.8h1.4M492.5 171.3h1.4M503.1 171.3h1.4M495.0 165.6h1.4M509.3 180.2h1.4M510.5 178.8h1.4M510.8 178.1h1.4M495.0 178.7h1.4M499.1 176.6h1.4M490.6 164.5h1.4M499.4 176.8h1.4M504.6 180.0h1.4M492.7 172.9h1.4M493.4 177.9h1.4M490.9 180.8h1.4M495.5 174.9h1.4M510.4 178.7h1.4M496.7 177.2h1.4M493.3 175.3h1.4M510.7 180.8h1.4M497.1 172.5h1.4M505.1 177.5h1.4M502.0 170.5h1.4M509.0 180.4h1.4M499.5 167.4h1.4M499.2 180.0h1.4M505.2 180.9h1.4M491.9 173.3h1.4M493.9 170.2h1.4M504.2 179.4h1.4M505.2 176.5h1.4M503.6 178.1h1.4M497.1 180.6h1.4M498.0 167.2h1.4M508.6 180.9h1.4M491.0 178.5h1.4M503.3 178.2h1.4M491.6 175.9h1.4M500.3 172.9h1.4M496.4 172.9h1.4M503.0 176.0h1.4M490.7 168.9h1.4M491.6 180.8h1.4M498.0 181.0h1.4M491.0 176.4h1.4M497.9 180.6h1.4M510.5 177.5h1.4M498.3 174.7h1.4M494.7 163.9h1.4M491.5 178.0h1.4M506.3 102.4h1.4M506.9 112.8h1.4M510.3 112.5h1.4M505.2 116.9h1.4M515.6 118.6h1.4M517.9 118.9h1.4M493.8 119.8h1.4M495.3 122.0h1.4M501.7 119.8h1.4M502.1 126.4h1.4M499.8 131.2h1.4M511.6 132.1h1.4M501.1 138.5h1.4M523.9 143.3h1.4M497.6 141.8h1.4M500.2 142.3h1.4M493.2 144.2h1.4M496.4 144.6h1.4M497.6 145.6h1.4M493.4 147.1h1.4M495.5 150.3h1.4M499.5 150.9h1.4M496.1 151.9h1.4M499.8 153.8h1.4M491.3 157.3h1.4M495.1 159.5h1.4M513.7 160.8h1.4M525.8 162.6h1.4M528.5 162.0h1.4M502.7 162.7h1.4M506.9 163.2h1.4M499.3 163.4h1.4M509.7 165.5h1.4M513.5 165.1h1.4M494.2 163.6h1.4M497.0 165.9h1.4M535.7 172.1h1.4M519.2 173.4h1.4M526.8 175.7h1.4M550.9 175.0h1.4M545.8 176.0h1.4M543.9 178.5h1.4M512.2 177.6h1.4M516.7 177.6h1.4M521.1 180.4h1.4M508.8 173.8h1.4M504.6 170.0h1.4M594.1 81.9h1.4M633.5 115.1h1.4M576.7 149.5h1.4M584.8 155.9h1.4M571.4 164.8h1.4M563.0 169.9h1.4M561.1 172.1h1.4M551.3 175.2h1.4M545.4 176.6h1.4M544.3 178.3h1.4M558.3 177.2h1.4M560.8 176.2h1.4M570.9 164.7h1.4" stroke="#ff1a1a" stroke-width="1.4" fill="none"/>
<text x="8.00" y="262.40" font-size="16" text-anchor="start" font-weight="bold" fill="#000" >c</text>
<rect x="36.20" y="298.90" width="123.39" height="4.90" fill="#5bcde6" />
<rect x="159.59" y="298.90" width="123.39" height="4.90" fill="#f08022" />
<path d="M57 298.4V282.3H118.6V285.5 M98.5 298.4V285.5H139.5V298.4 M87.3 282.3V273.6H211.3V277.3 M180.3 298.4V277.3H241.8V283 M221.5 298.4V283H262.4V298.4" fill="none" stroke="#555" stroke-width="0.8"/>
<rect x="36.20" y="305.20" width="41.18" height="1.05" fill="#f0cf8f" />
<rect x="36.20" y="306.20" width="41.18" height="1.05" fill="#f2e19c" />
<rect x="36.20" y="307.20" width="41.18" height="1.05" fill="#f0cd8d" />
<rect x="36.20" y="308.20" width="41.18" height="1.05" fill="#f2eaa8" />
<rect x="36.20" y="309.20" width="41.18" height="1.05" fill="#f1d694" />
<rect x="36.20" y="310.19" width="41.18" height="1.05" fill="#f0d291" />
<rect x="36.20" y="311.19" width="41.18" height="1.05" fill="#f1da98" />
<rect x="36.20" y="312.19" width="41.18" height="1.05" fill="#f2e49e" />
<rect x="36.20" y="313.19" width="41.18" height="1.05" fill="#f1d896" />
<rect x="36.20" y="314.19" width="41.18" height="1.05" fill="#f0ba7d" />
<rect x="36.20" y="315.19" width="41.18" height="1.05" fill="#f0f7cc" />
<rect x="36.20" y="316.19" width="41.18" height="1.05" fill="#eef8d6" />
<rect x="36.20" y="317.19" width="41.18" height="1.05" fill="#ecf7db" />
<rect x="36.20" y="318.18" width="41.18" height="1.05" fill="#eff7d0" />
<rect x="36.20" y="319.18" width="41.18" height="1.05" fill="#f0b87c" />
<rect x="36.20" y="320.18" width="41.18" height="1.05" fill="#f0a773" />
<rect x="36.20" y="321.18" width="41.18" height="1.05" fill="#ef9769" />
<rect x="36.20" y="322.18" width="41.18" height="1.05" fill="#e97d5b" />
<rect x="36.20" y="323.18" width="41.18" height="1.05" fill="#f0a874" />
<rect x="36.20" y="324.18" width="41.18" height="1.05" fill="#f0b67b" />
<rect x="36.20" y="325.18" width="41.18" height="1.05" fill="#f0d493" />
<rect x="36.20" y="326.18" width="41.18" height="1.05" fill="#f1db98" />
<rect x="36.20" y="327.17" width="41.18" height="1.05" fill="#f0d392" />
<rect x="36.20" y="328.17" width="41.18" height="1.05" fill="#f1da97" />
<rect x="36.20" y="329.17" width="41.18" height="1.05" fill="#e86d4d" />
<rect x="36.20" y="330.17" width="41.18" height="1.05" fill="#e86c4c" />
<rect x="36.20" y="331.17" width="41.18" height="1.05" fill="#ea7f5b" />
<rect x="36.20" y="332.17" width="41.18" height="1.05" fill="#ef9a6c" />
<rect x="36.20" y="333.17" width="41.18" height="1.05" fill="#ef986a" />
<rect x="36.20" y="334.17" width="41.18" height="1.05" fill="#ee9266" />
<rect x="36.20" y="335.16" width="41.18" height="1.05" fill="#ea7f5b" />
<rect x="36.20" y="336.16" width="41.18" height="1.05" fill="#f09e6e" />
<rect x="36.20" y="337.16" width="41.18" height="1.05" fill="#e87050" />
<rect x="36.20" y="338.16" width="41.18" height="1.05" fill="#de4534" />
<rect x="36.20" y="339.16" width="41.18" height="1.05" fill="#e97b5a" />
<rect x="36.20" y="340.16" width="41.18" height="1.05" fill="#e97d5b" />
<rect x="36.20" y="341.16" width="41.18" height="1.05" fill="#e86f4f" />
<rect x="36.20" y="342.16" width="41.18" height="1.05" fill="#e35c41" />
<rect x="36.20" y="343.15" width="41.18" height="1.05" fill="#eb865f" />
<rect x="36.20" y="344.15" width="41.18" height="1.05" fill="#ef9a6b" />
<rect x="36.20" y="345.15" width="41.18" height="1.05" fill="#e87050" />
<rect x="36.20" y="346.15" width="41.18" height="1.05" fill="#ea805c" />
<rect x="36.20" y="347.15" width="41.18" height="1.05" fill="#e97e5b" />
<rect x="36.20" y="348.15" width="41.18" height="1.05" fill="#e87252" />
<rect x="36.20" y="349.15" width="41.18" height="1.05" fill="#ed8d62" />
<rect x="36.20" y="350.15" width="41.18" height="1.05" fill="#ed8c62" />
<rect x="36.20" y="351.15" width="41.18" height="1.05" fill="#ee9064" />
<rect x="36.20" y="352.14" width="41.18" height="1.05" fill="#e87757" />
<rect x="36.20" y="353.14" width="41.18" height="1.05" fill="#e87555" />
<rect x="36.20" y="354.14" width="41.18" height="1.05" fill="#ec8a61" />
<rect x="36.20" y="355.14" width="41.18" height="1.05" fill="#e66446" />
<rect x="36.20" y="356.14" width="41.18" height="1.05" fill="#e1553d" />
<rect x="36.20" y="357.14" width="41.18" height="1.05" fill="#e2593f" />
<rect x="36.20" y="358.14" width="41.18" height="1.05" fill="#ef986a" />
<rect x="36.20" y="359.14" width="41.18" height="1.05" fill="#ee9164" />
<rect x="36.20" y="360.13" width="41.18" height="1.05" fill="#e76647" />
<rect x="36.20" y="361.13" width="41.18" height="1.05" fill="#e87454" />
<rect x="36.20" y="362.13" width="41.18" height="1.05" fill="#ef9a6b" />
<rect x="36.20" y="363.13" width="41.18" height="1.05" fill="#ee9366" />
<rect x="36.20" y="364.13" width="41.18" height="1.05" fill="#ef9668" />
<rect x="36.20" y="365.13" width="41.18" height="1.05" fill="#f2f6c0" />
<rect x="36.20" y="366.13" width="41.18" height="1.05" fill="#edf8db" />
<rect x="36.20" y="367.13" width="41.18" height="1.05" fill="#f0ca8a" />
<rect x="36.20" y="368.12" width="41.18" height="1.05" fill="#f2e7a3" />
<rect x="36.20" y="369.12" width="41.18" height="1.05" fill="#f2eeb1" />
<rect x="36.20" y="370.12" width="41.18" height="1.05" fill="#f1e09c" />
<rect x="36.20" y="371.12" width="41.18" height="1.05" fill="#f0f7ce" />
<rect x="36.20" y="372.12" width="41.18" height="1.05" fill="#eff7d2" />
<rect x="36.20" y="373.12" width="41.18" height="1.05" fill="#f2f6c3" />
<rect x="36.20" y="374.12" width="41.18" height="1.05" fill="#f2f0b3" />
<rect x="36.20" y="375.12" width="41.18" height="1.05" fill="#f0f7ca" />
<rect x="36.20" y="376.12" width="41.18" height="1.05" fill="#f2f4bc" />
<rect x="36.20" y="377.11" width="41.18" height="1.05" fill="#f2f0b4" />
<rect x="36.20" y="378.11" width="41.18" height="1.05" fill="#ebf7df" />
<rect x="36.20" y="379.11" width="41.18" height="1.05" fill="#f0d191" />
<rect x="36.20" y="380.11" width="41.18" height="1.05" fill="#f1de9a" />
<rect x="36.20" y="381.11" width="41.18" height="1.05" fill="#f2f1b6" />
<rect x="36.20" y="382.11" width="41.18" height="1.05" fill="#f0d392" />
<rect x="36.20" y="383.11" width="41.18" height="1.05" fill="#f0bf80" />
<rect x="36.20" y="384.11" width="41.18" height="1.05" fill="#f0c383" />
<rect x="36.20" y="385.10" width="41.18" height="1.05" fill="#eef8d6" />
<rect x="36.20" y="386.10" width="41.18" height="1.05" fill="#e2f3ec" />
<rect x="36.20" y="387.10" width="41.18" height="1.05" fill="#f2e6a0" />
<rect x="36.20" y="388.10" width="41.18" height="1.05" fill="#f2f1b7" />
<rect x="36.20" y="389.10" width="41.18" height="1.05" fill="#f2f0b4" />
<rect x="36.20" y="390.10" width="41.18" height="1.05" fill="#f2f2b8" />
<rect x="36.20" y="391.10" width="41.18" height="1.05" fill="#eaf6e2" />
<rect x="36.20" y="392.10" width="41.18" height="1.05" fill="#ebf7de" />
<rect x="36.20" y="393.10" width="41.18" height="1.05" fill="#ecf7dc" />
<rect x="36.20" y="394.09" width="41.18" height="1.05" fill="#b5d6e5" />
<rect x="36.20" y="395.09" width="41.18" height="1.05" fill="#90bcdc" />
<rect x="36.20" y="396.09" width="41.18" height="2.05" fill="#d1e9ee" />
<rect x="36.20" y="398.09" width="41.18" height="1.05" fill="#d7edef" />
<rect x="36.20" y="399.09" width="41.18" height="1.05" fill="#d7ecef" />
<rect x="36.20" y="400.09" width="41.18" height="1.05" fill="#d5ebef" />
<rect x="36.20" y="401.09" width="41.18" height="1.05" fill="#c6e2eb" />
<rect x="36.20" y="402.08" width="41.18" height="1.05" fill="#d1e9ee" />
<rect x="36.20" y="403.08" width="41.18" height="1.05" fill="#e7f5e8" />
<rect x="36.20" y="404.08" width="41.18" height="1.05" fill="#e7f5e7" />
<rect x="36.20" y="405.08" width="41.18" height="1.05" fill="#ecf7dd" />
<rect x="36.20" y="406.08" width="41.18" height="1.05" fill="#e5f5ea" />
<rect x="36.20" y="407.08" width="41.18" height="1.05" fill="#b5d6e5" />
<rect x="36.20" y="408.08" width="41.18" height="1.05" fill="#c1dfe9" />
<rect x="36.20" y="409.08" width="41.18" height="1.05" fill="#a9cde1" />
<rect x="36.20" y="410.07" width="41.18" height="2.05" fill="#b0d2e3" />
<rect x="36.20" y="412.07" width="41.18" height="1.05" fill="#def1ef" />
<rect x="36.20" y="413.07" width="41.18" height="1.05" fill="#e8f6e5" />
<rect x="36.20" y="414.07" width="41.18" height="1.05" fill="#e1f2ed" />
<rect x="36.20" y="415.07" width="41.18" height="1.05" fill="#e3f3ec" />
<rect x="36.20" y="416.07" width="41.18" height="1.05" fill="#ddf1ef" />
<rect x="36.20" y="417.07" width="41.18" height="1.05" fill="#def1ef" />
<rect x="36.20" y="418.07" width="41.18" height="1.05" fill="#b7d8e6" />
<rect x="36.20" y="419.06" width="41.18" height="1.05" fill="#b9d9e7" />
<rect x="36.20" y="420.06" width="41.18" height="1.05" fill="#e6f5e9" />
<rect x="36.20" y="421.06" width="41.18" height="1.05" fill="#ecf7dc" />
<rect x="36.20" y="422.06" width="41.18" height="1.05" fill="#b7d8e6" />
<rect x="36.20" y="423.06" width="41.18" height="1.05" fill="#d0e8ee" />
<rect x="36.20" y="424.06" width="41.18" height="1.05" fill="#cee7ed" />
<rect x="36.20" y="425.06" width="41.18" height="1.05" fill="#d2e9ee" />
<rect x="36.20" y="426.06" width="41.18" height="1.05" fill="#e5f5ea" />
<rect x="36.20" y="427.05" width="41.18" height="1.05" fill="#daeff0" />
<rect x="36.20" y="428.05" width="41.18" height="1.05" fill="#93bedd" />
<rect x="36.20" y="429.05" width="41.18" height="1.05" fill="#a0c7df" />
<rect x="36.20" y="430.05" width="41.18" height="1.05" fill="#88b4d8" />
<rect x="36.20" y="431.05" width="41.18" height="1.05" fill="#94bedd" />
<rect x="36.20" y="432.05" width="41.18" height="1.05" fill="#86b2d7" />
<rect x="36.20" y="433.05" width="41.18" height="1.05" fill="#8db9da" />
<rect x="36.20" y="434.05" width="41.18" height="1.05" fill="#a4c9df" />
<rect x="36.20" y="435.05" width="41.18" height="1.05" fill="#96c0dd" />
<rect x="36.20" y="436.04" width="41.18" height="1.05" fill="#81add5" />
<rect x="36.20" y="437.04" width="41.18" height="1.05" fill="#7ba8d2" />
<rect x="36.20" y="438.04" width="41.18" height="1.05" fill="#83afd6" />
<rect x="36.20" y="439.04" width="41.18" height="1.05" fill="#6997c9" />
<rect x="36.20" y="440.04" width="41.18" height="1.05" fill="#c1dfea" />
<rect x="36.20" y="441.04" width="41.18" height="1.05" fill="#b8d9e7" />
<rect x="36.20" y="442.04" width="41.18" height="1.05" fill="#a3c9df" />
<rect x="36.20" y="443.04" width="41.18" height="1.05" fill="#9bc3de" />
<rect x="36.20" y="444.03" width="41.18" height="1.05" fill="#a8cce0" />
<rect x="36.20" y="445.03" width="41.18" height="1.05" fill="#b0d2e3" />
<rect x="36.20" y="446.03" width="41.18" height="2.05" fill="#add0e2" />
<rect x="36.20" y="448.03" width="41.18" height="1.05" fill="#8db9db" />
<rect x="36.20" y="449.03" width="41.18" height="1.05" fill="#98c1dd" />
<rect x="36.20" y="450.03" width="41.18" height="1.05" fill="#f2e59f" />
<rect x="36.20" y="451.03" width="41.18" height="1.05" fill="#f2ecad" />
<rect x="36.20" y="452.02" width="41.18" height="1.05" fill="#f1f6c4" />
<rect x="36.20" y="453.02" width="41.18" height="1.05" fill="#f2f4bb" />
<rect x="36.20" y="454.02" width="41.18" height="1.05" fill="#f2f6c3" />
<rect x="36.20" y="455.02" width="41.18" height="1.05" fill="#f2f5bd" />
<rect x="36.20" y="456.02" width="41.18" height="1.05" fill="#f2e6a1" />
<rect x="36.20" y="457.02" width="41.18" height="1.05" fill="#f2efb3" />
<rect x="36.20" y="458.02" width="41.18" height="1.05" fill="#f2e7a2" />
<rect x="36.20" y="459.02" width="41.18" height="1.05" fill="#b4d6e5" />
<rect x="36.20" y="460.02" width="41.18" height="1.05" fill="#9ec5de" />
<rect x="36.20" y="461.01" width="41.18" height="1.05" fill="#d4ebef" />
<rect x="36.20" y="462.01" width="41.18" height="1.05" fill="#e7f5e7" />
<rect x="36.20" y="463.01" width="41.18" height="1.05" fill="#d3eaef" />
<rect x="36.20" y="464.01" width="41.18" height="1.05" fill="#d1e9ee" />
<rect x="36.20" y="465.01" width="41.18" height="1.05" fill="#e1f3ed" />
<rect x="36.20" y="466.01" width="41.18" height="1.05" fill="#daeef0" />
<rect x="36.20" y="467.01" width="41.18" height="1.05" fill="#e6f5ea" />
<rect x="36.20" y="468.01" width="41.18" height="1.05" fill="#edf8da" />
<rect x="36.20" y="469.00" width="41.18" height="1.05" fill="#dbeff0" />
<rect x="36.20" y="470.00" width="41.18" height="1.05" fill="#add0e2" />
<rect x="36.20" y="471.00" width="41.18" height="1.05" fill="#99c2dd" />
<rect x="36.20" y="472.00" width="41.18" height="1.05" fill="#93bedd" />
<rect x="77.33" y="305.20" width="41.18" height="1.05" fill="#f0f7cc" />
<rect x="77.33" y="306.20" width="41.18" height="1.05" fill="#f2eeb1" />
<rect x="77.33" y="307.20" width="41.18" height="1.05" fill="#f0b379" />
<rect x="77.33" y="308.20" width="41.18" height="1.05" fill="#f0cd8d" />
<rect x="77.33" y="309.20" width="41.18" height="1.05" fill="#f0d392" />
<rect x="77.33" y="310.19" width="41.18" height="1.05" fill="#f0aa75" />
<rect x="77.33" y="311.19" width="41.18" height="1.05" fill="#f0b47a" />
<rect x="77.33" y="312.19" width="41.18" height="1.05" fill="#f2edae" />
<rect x="77.33" y="313.19" width="41.18" height="1.05" fill="#ef9668" />
<rect x="77.33" y="314.19" width="41.18" height="1.05" fill="#f0c585" />
<rect x="77.33" y="315.19" width="41.18" height="1.05" fill="#f0d090" />
<rect x="77.33" y="316.19" width="41.18" height="1.05" fill="#f0c282" />
<rect x="77.33" y="317.19" width="41.18" height="1.05" fill="#f0ae77" />
<rect x="77.33" y="318.18" width="41.18" height="1.05" fill="#f0d593" />
<rect x="77.33" y="319.18" width="41.18" height="1.05" fill="#f1db98" />
<rect x="77.33" y="320.18" width="41.18" height="1.05" fill="#f1f7c6" />
<rect x="77.33" y="321.18" width="41.18" height="1.05" fill="#f1f7c8" />
<rect x="77.33" y="322.18" width="41.18" height="1.05" fill="#f0d392" />
<rect x="77.33" y="323.18" width="41.18" height="1.05" fill="#f0c181" />
<rect x="77.33" y="324.18" width="41.18" height="1.05" fill="#f0c888" />
<rect x="77.33" y="325.18" width="41.18" height="1.05" fill="#f0bb7e" />
<rect x="77.33" y="326.18" width="41.18" height="1.05" fill="#f0d090" />
<rect x="77.33" y="327.17" width="41.18" height="1.05" fill="#f0c787" />
<rect x="77.33" y="328.17" width="41.18" height="1.05" fill="#f0cc8c" />
<rect x="77.33" y="329.17" width="41.18" height="2.05" fill="#f2eeb0" />
<rect x="77.33" y="331.17" width="41.18" height="1.05" fill="#f0cd8d" />
<rect x="77.33" y="332.17" width="41.18" height="1.05" fill="#f0cf8f" />
<rect x="77.33" y="333.17" width="41.18" height="1.05" fill="#f0b57a" />
<rect x="77.33" y="334.17" width="41.18" height="1.05" fill="#f0be7f" />
<rect x="77.33" y="335.16" width="41.18" height="1.05" fill="#f0d191" />
<rect x="77.33" y="336.16" width="41.18" height="1.05" fill="#f0b67b" />
<rect x="77.33" y="337.16" width="41.18" height="1.05" fill="#f2f1b7" />
<rect x="77.33" y="338.16" width="41.18" height="1.05" fill="#f2eaa8" />
<rect x="77.33" y="339.16" width="41.18" height="2.05" fill="#f2f5bd" />
<rect x="77.33" y="341.16" width="41.18" height="1.05" fill="#f1f6c4" />
<rect x="77.33" y="342.16" width="41.18" height="1.05" fill="#f2f3b9" />
<rect x="77.33" y="343.15" width="41.18" height="1.05" fill="#f2f0b4" />
<rect x="77.33" y="344.15" width="41.18" height="1.05" fill="#f2f2b8" />
<rect x="77.33" y="345.15" width="41.18" height="1.05" fill="#f2f5be" />
<rect x="77.33" y="346.15" width="41.18" height="1.05" fill="#f2f0b3" />
<rect x="77.33" y="347.15" width="41.18" height="1.05" fill="#f2f3b9" />
<rect x="77.33" y="348.15" width="41.18" height="1.05" fill="#f2f2b7" />
<rect x="77.33" y="349.15" width="41.18" height="1.05" fill="#f1f7c8" />
<rect x="77.33" y="350.15" width="41.18" height="1.05" fill="#f2f2b8" />
<rect x="77.33" y="351.15" width="41.18" height="1.05" fill="#f1f6c5" />
<rect x="77.33" y="352.14" width="41.18" height="1.05" fill="#f2f6c3" />
<rect x="77.33" y="353.14" width="41.18" height="1.05" fill="#f2f1b5" />
<rect x="77.33" y="354.14" width="41.18" height="1.05" fill="#f2e39e" />
<rect x="77.33" y="355.14" width="41.18" height="1.05" fill="#f1db98" />
<rect x="77.33" y="356.14" width="41.18" height="1.05" fill="#f2e6a0" />
<rect x="77.33" y="357.14" width="41.18" height="1.05" fill="#f0b47a" />
<rect x="77.33" y="358.14" width="41.18" height="1.05" fill="#f09e6e" />
<rect x="77.33" y="359.14" width="41.18" height="1.05" fill="#f0d392" />
<rect x="77.33" y="360.13" width="41.18" height="1.05" fill="#f0d493" />
<rect x="77.33" y="361.13" width="41.18" height="1.05" fill="#f2e49e" />
<rect x="77.33" y="362.13" width="41.18" height="1.05" fill="#f1e09b" />
<rect x="77.33" y="363.13" width="41.18" height="2.05" fill="#f2e59f" />
<rect x="77.33" y="365.13" width="41.18" height="1.05" fill="#f0b178" />
<rect x="77.33" y="366.13" width="41.18" height="1.05" fill="#f0a572" />
<rect x="77.33" y="367.13" width="41.18" height="1.05" fill="#e9f6e2" />
<rect x="77.33" y="368.12" width="41.18" height="1.05" fill="#f2e19d" />
<rect x="77.33" y="369.12" width="41.18" height="1.05" fill="#f0d090" />
<rect x="77.33" y="370.12" width="41.18" height="1.05" fill="#f1de9a" />
<rect x="77.33" y="371.12" width="41.18" height="1.05" fill="#f0ce8e" />
<rect x="77.33" y="372.12" width="41.18" height="1.05" fill="#f2e29d" />
<rect x="77.33" y="373.12" width="41.18" height="1.05" fill="#f1d896" />
<rect x="77.33" y="374.12" width="41.18" height="1.05" fill="#f0d090" />
<rect x="77.33" y="375.12" width="41.18" height="1.05" fill="#f1e09b" />
<rect x="77.33" y="376.12" width="41.18" height="1.05" fill="#f1dc99" />
<rect x="77.33" y="377.11" width="41.18" height="1.05" fill="#f0af78" />
<rect x="77.33" y="378.11" width="41.18" height="1.05" fill="#f2f5be" />
<rect x="77.33" y="379.11" width="41.18" height="1.05" fill="#f2f5bf" />
<rect x="77.33" y="380.11" width="41.18" height="1.05" fill="#f1db98" />
<rect x="77.33" y="381.11" width="41.18" height="1.05" fill="#f0d493" />
<rect x="77.33" y="382.11" width="41.18" height="1.05" fill="#f0d593" />
<rect x="77.33" y="383.11" width="41.18" height="1.05" fill="#f0c888" />
<rect x="77.33" y="384.11" width="41.18" height="1.05" fill="#f0cb8b" />
<rect x="77.33" y="385.10" width="41.18" height="1.05" fill="#f1d996" />
<rect x="77.33" y="386.10" width="41.18" height="1.05" fill="#f0f7cb" />
<rect x="77.33" y="387.10" width="41.18" height="1.05" fill="#edf8da" />
<rect x="77.33" y="388.10" width="41.18" height="1.05" fill="#f09e6f" />
<rect x="77.33" y="389.10" width="41.18" height="1.05" fill="#ef9467" />
<rect x="77.33" y="390.10" width="41.18" height="1.05" fill="#ea7f5c" />
<rect x="77.33" y="391.10" width="41.18" height="1.05" fill="#f1e09c" />
<rect x="77.33" y="392.10" width="41.18" height="1.05" fill="#f1d996" />
<rect x="77.33" y="393.10" width="41.18" height="1.05" fill="#f2f5be" />
<rect x="77.33" y="394.09" width="41.18" height="1.05" fill="#f2f6c2" />
<rect x="77.33" y="395.09" width="41.18" height="1.05" fill="#f2e8a5" />
<rect x="77.33" y="396.09" width="41.18" height="1.05" fill="#f1f7c8" />
<rect x="77.33" y="397.09" width="41.18" height="1.05" fill="#c3e0ea" />
<rect x="77.33" y="398.09" width="41.18" height="1.05" fill="#c6e2eb" />
<rect x="77.33" y="399.09" width="41.18" height="1.05" fill="#d5ecef" />
<rect x="77.33" y="400.09" width="41.18" height="1.05" fill="#c9e4ec" />
<rect x="77.33" y="401.09" width="41.18" height="1.05" fill="#c2e0ea" />
<rect x="77.33" y="402.08" width="41.18" height="1.05" fill="#d0e8ee" />
<rect x="77.33" y="403.08" width="41.18" height="1.05" fill="#ecf7dd" />
<rect x="77.33" y="404.08" width="41.18" height="1.05" fill="#e5f5ea" />
<rect x="77.33" y="405.08" width="41.18" height="1.05" fill="#e4f4eb" />
<rect x="77.33" y="406.08" width="41.18" height="1.05" fill="#ebf7de" />
<rect x="77.33" y="407.08" width="41.18" height="2.05" fill="#f0f7ca" />
<rect x="77.33" y="409.08" width="41.18" height="1.05" fill="#eaf7e0" />
<rect x="77.33" y="410.07" width="41.18" height="1.05" fill="#eff8d4" />
<rect x="77.33" y="411.07" width="41.18" height="1.05" fill="#eff8d3" />
<rect x="77.33" y="412.07" width="41.18" height="1.05" fill="#e5f4eb" />
<rect x="77.33" y="413.07" width="41.18" height="1.05" fill="#f1f7c6" />
<rect x="77.33" y="414.07" width="41.18" height="1.05" fill="#eef8d7" />
<rect x="77.33" y="415.07" width="41.18" height="1.05" fill="#ecf7dc" />
<rect x="77.33" y="416.07" width="41.18" height="1.05" fill="#f2f2b8" />
<rect x="77.33" y="417.07" width="41.18" height="1.05" fill="#eef8d6" />
<rect x="77.33" y="418.07" width="41.18" height="1.05" fill="#eaf7e0" />
<rect x="77.33" y="419.06" width="41.18" height="1.05" fill="#eef8d9" />
<rect x="77.33" y="420.06" width="41.18" height="1.05" fill="#eff7d0" />
<rect x="77.33" y="421.06" width="41.18" height="1.05" fill="#8cb8da" />
<rect x="77.33" y="422.06" width="41.18" height="1.05" fill="#83afd6" />
<rect x="77.33" y="423.06" width="41.18" height="1.05" fill="#7ba8d2" />
<rect x="77.33" y="424.06" width="41.18" height="1.05" fill="#7da9d3" />
<rect x="77.33" y="425.06" width="41.18" height="1.05" fill="#7ba8d2" />
<rect x="77.33" y="426.06" width="41.18" height="1.05" fill="#79a6d1" />
<rect x="77.33" y="427.05" width="41.18" height="1.05" fill="#f0f7cc" />
<rect x="77.33" y="428.05" width="41.18" height="1.05" fill="#eff8d3" />
<rect x="77.33" y="429.05" width="41.18" height="1.05" fill="#f0f7cb" />
<rect x="77.33" y="430.05" width="41.18" height="1.05" fill="#eef8d8" />
<rect x="77.33" y="431.05" width="41.18" height="1.05" fill="#eef8d9" />
<rect x="77.33" y="432.05" width="41.18" height="1.05" fill="#e7f5e8" />
<rect x="77.33" y="433.05" width="41.18" height="1.05" fill="#e6f5e9" />
<rect x="77.33" y="434.05" width="41.18" height="1.05" fill="#eef8d9" />
<rect x="77.33" y="435.05" width="41.18" height="1.05" fill="#e3f3ec" />
<rect x="77.33" y="436.04" width="41.18" height="1.05" fill="#e9f6e3" />
<rect x="77.33" y="437.04" width="41.18" height="1.05" fill="#e8f6e6" />
<rect x="77.33" y="438.04" width="41.18" height="1.05" fill="#c5e1eb" />
<rect x="77.33" y="439.04" width="41.18" height="1.05" fill="#d8eeef" />
<rect x="77.33" y="440.04" width="41.18" height="1.05" fill="#d4ebef" />
<rect x="77.33" y="441.04" width="41.18" height="1.05" fill="#bbdbe8" />
<rect x="77.33" y="442.04" width="41.18" height="1.05" fill="#d7edef" />
<rect x="77.33" y="443.04" width="41.18" height="1.05" fill="#daeff0" />
<rect x="77.33" y="444.03" width="41.18" height="1.05" fill="#cbe5ed" />
<rect x="77.33" y="445.03" width="41.18" height="1.05" fill="#dff1ee" />
<rect x="77.33" y="446.03" width="41.18" height="1.05" fill="#d4ebef" />
<rect x="77.33" y="447.03" width="41.18" height="1.05" fill="#c7e3eb" />
<rect x="77.33" y="448.03" width="41.18" height="1.05" fill="#d7edef" />
<rect x="77.33" y="449.03" width="41.18" height="1.05" fill="#84b0d6" />
<rect x="77.33" y="450.03" width="41.18" height="1.05" fill="#7aa7d1" />
<rect x="77.33" y="451.03" width="41.18" height="1.05" fill="#719fcd" />
<rect x="77.33" y="452.02" width="41.18" height="1.05" fill="#8ab6d9" />
<rect x="77.33" y="453.02" width="41.18" height="1.05" fill="#81add4" />
<rect x="77.33" y="454.02" width="41.18" height="1.05" fill="#e0f2ee" />
<rect x="77.33" y="455.02" width="41.18" height="1.05" fill="#def1ef" />
<rect x="77.33" y="456.02" width="41.18" height="2.05" fill="#d8edef" />
<rect x="77.33" y="458.02" width="41.18" height="1.05" fill="#e7f5e9" />
<rect x="77.33" y="459.02" width="41.18" height="1.05" fill="#e6f5e9" />
<rect x="77.33" y="460.02" width="41.18" height="1.05" fill="#e1f2ed" />
<rect x="77.33" y="461.01" width="41.18" height="1.05" fill="#b8d9e6" />
<rect x="77.33" y="462.01" width="41.18" height="1.05" fill="#b0d2e3" />
<rect x="77.33" y="463.01" width="41.18" height="1.05" fill="#b7d8e6" />
<rect x="77.33" y="464.01" width="41.18" height="1.05" fill="#d0e8ee" />
<rect x="77.33" y="465.01" width="41.18" height="1.05" fill="#c2dfea" />
<rect x="77.33" y="466.01" width="41.18" height="1.05" fill="#eff7d0" />
<rect x="77.33" y="467.01" width="41.18" height="1.05" fill="#ecf7dd" />
<rect x="77.33" y="468.01" width="41.18" height="1.05" fill="#f0f7ca" />
<rect x="77.33" y="469.00" width="41.18" height="1.05" fill="#b1d3e4" />
<rect x="77.33" y="470.00" width="41.18" height="1.05" fill="#bcdce8" />
<rect x="77.33" y="471.00" width="41.18" height="1.05" fill="#c5e1eb" />
<rect x="77.33" y="472.00" width="41.18" height="1.05" fill="#f1f7c8" />
<rect x="118.46" y="305.20" width="41.18" height="1.05" fill="#f0bd7f" />
<rect x="118.46" y="306.20" width="41.18" height="1.05" fill="#f0c484" />
<rect x="118.46" y="307.20" width="41.18" height="1.05" fill="#f1d695" />
<rect x="118.46" y="308.20" width="41.18" height="1.05" fill="#f0c383" />
<rect x="118.46" y="309.20" width="41.18" height="1.05" fill="#f0d593" />
<rect x="118.46" y="310.19" width="41.18" height="1.05" fill="#f1df9b" />
<rect x="118.46" y="311.19" width="41.18" height="1.05" fill="#f0ba7d" />
<rect x="118.46" y="312.19" width="41.18" height="1.05" fill="#f0cd8d" />
<rect x="118.46" y="313.19" width="41.18" height="1.05" fill="#f0bc7e" />
<rect x="118.46" y="314.19" width="41.18" height="1.05" fill="#f2e9a6" />
<rect x="118.46" y="315.19" width="41.18" height="1.05" fill="#f2e7a1" />
<rect x="118.46" y="316.19" width="41.18" height="1.05" fill="#e87757" />
<rect x="118.46" y="317.19" width="41.18" height="1.05" fill="#e86e4e" />
<rect x="118.46" y="318.18" width="41.18" height="1.05" fill="#f0cd8d" />
<rect x="118.46" y="319.18" width="41.18" height="1.05" fill="#f1d795" />
<rect x="118.46" y="320.18" width="41.18" height="1.05" fill="#f1dc99" />
<rect x="118.46" y="321.18" width="41.18" height="1.05" fill="#f0c787" />
<rect x="118.46" y="322.18" width="41.18" height="2.05" fill="#f0f7ce" />
<rect x="118.46" y="324.18" width="41.18" height="1.05" fill="#f2ebaa" />
<rect x="118.46" y="325.18" width="41.18" height="1.05" fill="#ef9668" />
<rect x="118.46" y="326.18" width="41.18" height="1.05" fill="#ee9265" />
<rect x="118.46" y="327.17" width="41.18" height="1.05" fill="#f0aa75" />
<rect x="118.46" y="328.17" width="41.18" height="1.05" fill="#f09c6d" />
<rect x="118.46" y="329.17" width="41.18" height="1.05" fill="#f1f6c3" />
<rect x="118.46" y="330.17" width="41.18" height="1.05" fill="#f2f6c3" />
<rect x="118.46" y="331.17" width="41.18" height="1.05" fill="#f1da97" />
<rect x="118.46" y="332.17" width="41.18" height="1.05" fill="#f1db98" />
<rect x="118.46" y="333.17" width="41.18" height="1.05" fill="#f1de9a" />
<rect x="118.46" y="334.17" width="41.18" height="1.05" fill="#f1e09c" />
<rect x="118.46" y="335.16" width="41.18" height="1.05" fill="#f2edad" />
<rect x="118.46" y="336.16" width="41.18" height="1.05" fill="#f2e8a4" />
<rect x="118.46" y="337.16" width="41.18" height="1.05" fill="#f2f4bb" />
<rect x="118.46" y="338.16" width="41.18" height="1.05" fill="#f1f6c5" />
<rect x="118.46" y="339.16" width="41.18" height="1.05" fill="#f0f7cb" />
<rect x="118.46" y="340.16" width="41.18" height="1.05" fill="#f2f4bb" />
<rect x="118.46" y="341.16" width="41.18" height="1.05" fill="#f0f7cd" />
<rect x="118.46" y="342.16" width="41.18" height="1.05" fill="#f0f7ca" />
<rect x="118.46" y="343.15" width="41.18" height="1.05" fill="#f2f0b5" />
<rect x="118.46" y="344.15" width="41.18" height="1.05" fill="#f1f6c5" />
<rect x="118.46" y="345.15" width="41.18" height="1.05" fill="#f2edad" />
<rect x="118.46" y="346.15" width="41.18" height="1.05" fill="#f2f3b9" />
<rect x="118.46" y="347.15" width="41.18" height="1.05" fill="#f2f1b5" />
<rect x="118.46" y="348.15" width="41.18" height="1.05" fill="#f2efb1" />
<rect x="118.46" y="349.15" width="41.18" height="1.05" fill="#ebf7de" />
<rect x="118.46" y="350.15" width="41.18" height="1.05" fill="#f2f6c1" />
<rect x="118.46" y="351.15" width="41.18" height="1.05" fill="#eff8d3" />
<rect x="118.46" y="352.14" width="41.18" height="1.05" fill="#f1f7c7" />
<rect x="118.46" y="353.14" width="41.18" height="1.05" fill="#f2f6c2" />
<rect x="118.46" y="354.14" width="41.18" height="1.05" fill="#f2eeb0" />
<rect x="118.46" y="355.14" width="41.18" height="1.05" fill="#eef8d8" />
<rect x="118.46" y="356.14" width="41.18" height="1.05" fill="#f2f6c0" />
<rect x="118.46" y="357.14" width="41.18" height="1.05" fill="#ebf7de" />
<rect x="118.46" y="358.14" width="41.18" height="1.05" fill="#eef8d9" />
<rect x="118.46" y="359.14" width="41.18" height="1.05" fill="#f2e8a4" />
<rect x="118.46" y="360.13" width="41.18" height="1.05" fill="#f1e09c" />
<rect x="118.46" y="361.13" width="41.18" height="1.05" fill="#f2e9a6" />
<rect x="118.46" y="362.13" width="41.18" height="1.05" fill="#f2edad" />
<rect x="118.46" y="363.13" width="41.18" height="1.05" fill="#f2ebaa" />
<rect x="118.46" y="364.13" width="41.18" height="1.05" fill="#f2f2b8" />
<rect x="118.46" y="365.13" width="41.18" height="1.05" fill="#f0b77c" />
<rect x="118.46" y="366.13" width="41.18" height="1.05" fill="#f0c181" />
<rect x="118.46" y="367.13" width="41.18" height="1.05" fill="#e66345" />
<rect x="118.46" y="368.12" width="41.18" height="1.05" fill="#e76546" />
<rect x="118.46" y="369.12" width="41.18" height="1.05" fill="#f09d6e" />
<rect x="118.46" y="370.12" width="41.18" height="1.05" fill="#ef9b6c" />
<rect x="118.46" y="371.12" width="41.18" height="1.05" fill="#ed8a61" />
<rect x="118.46" y="372.12" width="41.18" height="1.05" fill="#f0a070" />
<rect x="118.46" y="373.12" width="41.18" height="1.05" fill="#f09f70" />
<rect x="118.46" y="374.12" width="41.18" height="1.05" fill="#ea7f5b" />
<rect x="118.46" y="375.12" width="41.18" height="1.05" fill="#ea7f5c" />
<rect x="118.46" y="376.12" width="41.18" height="1.05" fill="#f0d191" />
<rect x="118.46" y="377.11" width="41.18" height="1.05" fill="#f0ce8e" />
<rect x="118.46" y="378.11" width="41.18" height="1.05" fill="#f0d292" />
<rect x="118.46" y="379.11" width="41.18" height="1.05" fill="#f0c383" />
<rect x="118.46" y="380.11" width="41.18" height="1.05" fill="#f1d997" />
<rect x="118.46" y="381.11" width="41.18" height="1.05" fill="#f2e59f" />
<rect x="118.46" y="382.11" width="41.18" height="1.05" fill="#f2e19c" />
<rect x="118.46" y="383.11" width="41.18" height="1.05" fill="#f1d795" />
<rect x="118.46" y="384.11" width="41.18" height="1.05" fill="#ec8860" />
<rect x="118.46" y="385.10" width="41.18" height="1.05" fill="#ea815c" />
<rect x="118.46" y="386.10" width="41.18" height="1.05" fill="#ed8b62" />
<rect x="118.46" y="387.10" width="41.18" height="1.05" fill="#ed8e63" />
<rect x="118.46" y="388.10" width="41.18" height="1.05" fill="#ee9366" />
<rect x="118.46" y="389.10" width="41.18" height="1.05" fill="#ec8960" />
<rect x="118.46" y="390.10" width="41.18" height="1.05" fill="#e97d5b" />
<rect x="118.46" y="391.10" width="41.18" height="1.05" fill="#ee9467" />
<rect x="118.46" y="392.10" width="41.18" height="1.05" fill="#ee9266" />
<rect x="118.46" y="393.10" width="41.18" height="1.05" fill="#80acd4" />
<rect x="118.46" y="394.09" width="41.18" height="1.05" fill="#87b3d8" />
<rect x="118.46" y="395.09" width="41.18" height="1.05" fill="#d5ebef" />
<rect x="118.46" y="396.09" width="41.18" height="1.05" fill="#c1dfe9" />
<rect x="118.46" y="397.09" width="41.18" height="1.05" fill="#d3eaee" />
<rect x="118.46" y="398.09" width="41.18" height="1.05" fill="#c4e1ea" />
<rect x="118.46" y="399.09" width="41.18" height="1.05" fill="#d5ebef" />
<rect x="118.46" y="400.09" width="41.18" height="1.05" fill="#c4e1eb" />
<rect x="118.46" y="401.09" width="41.18" height="1.05" fill="#aacee1" />
<rect x="118.46" y="402.08" width="41.18" height="1.05" fill="#aed1e3" />
<rect x="118.46" y="403.08" width="41.18" height="1.05" fill="#b6d7e6" />
<rect x="118.46" y="404.08" width="41.18" height="1.05" fill="#abcee1" />
<rect x="118.46" y="405.08" width="41.18" height="2.05" fill="#e7f5e8" />
<rect x="118.46" y="407.08" width="41.18" height="1.05" fill="#eff7d1" />
<rect x="118.46" y="408.08" width="41.18" height="1.05" fill="#f0f7ce" />
<rect x="118.46" y="409.08" width="41.18" height="1.05" fill="#f1f6c5" />
<rect x="118.46" y="410.07" width="41.18" height="1.05" fill="#ecf7db" />
<rect x="118.46" y="411.07" width="41.18" height="1.05" fill="#eff7d2" />
<rect x="118.46" y="412.07" width="41.18" height="1.05" fill="#eff8d2" />
<rect x="118.46" y="413.07" width="41.18" height="1.05" fill="#e6f5ea" />
<rect x="118.46" y="414.07" width="41.18" height="1.05" fill="#f0f7cc" />
<rect x="118.46" y="415.07" width="41.18" height="1.05" fill="#c7e2eb" />
<rect x="118.46" y="416.07" width="41.18" height="1.05" fill="#c7e3eb" />
<rect x="118.46" y="417.07" width="41.18" height="1.05" fill="#cbe5ec" />
<rect x="118.46" y="418.07" width="41.18" height="1.05" fill="#d1e8ee" />
<rect x="118.46" y="419.06" width="41.18" height="1.05" fill="#ecf7dd" />
<rect x="118.46" y="420.06" width="41.18" height="1.05" fill="#ecf7dc" />
<rect x="118.46" y="421.06" width="41.18" height="1.05" fill="#f2eaa9" />
<rect x="118.46" y="422.06" width="41.18" height="1.05" fill="#f1df9b" />
<rect x="118.46" y="423.06" width="41.18" height="1.05" fill="#f2e29d" />
<rect x="118.46" y="424.06" width="41.18" height="1.05" fill="#f2e9a5" />
<rect x="118.46" y="425.06" width="41.18" height="1.05" fill="#f1f7c6" />
<rect x="118.46" y="426.06" width="41.18" height="1.05" fill="#f2f4bb" />
<rect x="118.46" y="427.05" width="41.18" height="1.05" fill="#cbe5ed" />
<rect x="118.46" y="428.05" width="41.18" height="1.05" fill="#cee7ee" />
<rect x="118.46" y="429.05" width="41.18" height="1.05" fill="#c7e3eb" />
<rect x="118.46" y="430.05" width="41.18" height="1.05" fill="#eff8d4" />
<rect x="118.46" y="431.05" width="41.18" height="1.05" fill="#f1dc98" />
<rect x="118.46" y="432.05" width="41.18" height="1.05" fill="#f2ebaa" />
<rect x="118.46" y="433.05" width="41.18" height="1.05" fill="#f1f6c5" />
<rect x="118.46" y="434.05" width="41.18" height="1.05" fill="#f2e19c" />
<rect x="118.46" y="435.05" width="41.18" height="1.05" fill="#f2f2b7" />
<rect x="118.46" y="436.04" width="41.18" height="1.05" fill="#f2e7a2" />
<rect x="118.46" y="437.04" width="41.18" height="1.05" fill="#f2edae" />
<rect x="118.46" y="438.04" width="41.18" height="1.05" fill="#f0d493" />
<rect x="118.46" y="439.04" width="41.18" height="1.05" fill="#f0cd8d" />
<rect x="118.46" y="440.04" width="41.18" height="1.05" fill="#e7f5e8" />
<rect x="118.46" y="441.04" width="41.18" height="1.05" fill="#dff1ee" />
<rect x="118.46" y="442.04" width="41.18" height="1.05" fill="#e9f6e3" />
<rect x="118.46" y="443.04" width="41.18" height="1.05" fill="#e1f2ed" />
<rect x="118.46" y="444.03" width="41.18" height="1.05" fill="#ddf1ef" />
<rect x="118.46" y="445.03" width="41.18" height="1.05" fill="#f1f6c5" />
<rect x="118.46" y="446.03" width="41.18" height="1.05" fill="#f2f6c3" />
<rect x="118.46" y="447.03" width="41.18" height="1.05" fill="#f1f6c5" />
<rect x="118.46" y="448.03" width="41.18" height="1.05" fill="#f2f6c0" />
<rect x="118.46" y="449.03" width="41.18" height="1.05" fill="#e9f6e2" />
<rect x="118.46" y="450.03" width="41.18" height="1.05" fill="#f2efb1" />
<rect x="118.46" y="451.03" width="41.18" height="1.05" fill="#c4e1ea" />
<rect x="118.46" y="452.02" width="41.18" height="1.05" fill="#d2e9ee" />
<rect x="118.46" y="453.02" width="41.18" height="1.05" fill="#c1dfea" />
<rect x="118.46" y="454.02" width="41.18" height="1.05" fill="#f2f5be" />
<rect x="118.46" y="455.02" width="41.18" height="1.05" fill="#f2f6c3" />
<rect x="118.46" y="456.02" width="41.18" height="1.05" fill="#eef8d7" />
<rect x="118.46" y="457.02" width="41.18" height="1.05" fill="#96c0dd" />
<rect x="118.46" y="458.02" width="41.18" height="1.05" fill="#dbeff0" />
<rect x="118.46" y="459.02" width="41.18" height="1.05" fill="#cde6ed" />
<rect x="118.46" y="460.02" width="41.18" height="1.05" fill="#c1dfe9" />
<rect x="118.46" y="461.01" width="41.18" height="1.05" fill="#c3e0ea" />
<rect x="118.46" y="462.01" width="41.18" height="1.05" fill="#c1dfe9" />
<rect x="118.46" y="463.01" width="41.18" height="1.05" fill="#cce6ed" />
<rect x="118.46" y="464.01" width="41.18" height="1.05" fill="#cbe5ec" />
<rect x="118.46" y="465.01" width="41.18" height="1.05" fill="#d9eeef" />
<rect x="118.46" y="466.01" width="41.18" height="1.05" fill="#99c2de" />
<rect x="118.46" y="467.01" width="41.18" height="1.05" fill="#8ebadb" />
<rect x="118.46" y="468.01" width="41.18" height="1.05" fill="#f2f5be" />
<rect x="118.46" y="469.00" width="41.18" height="1.05" fill="#e8f6e5" />
<rect x="118.46" y="470.00" width="41.18" height="2.05" fill="#f0f7cd" />
<rect x="118.46" y="472.00" width="41.18" height="1.05" fill="#f2f6c2" />
<rect x="159.59" y="305.20" width="41.18" height="1.05" fill="#f2f1b7" />
<rect x="159.59" y="306.20" width="41.18" height="1.05" fill="#f2f2b8" />
<rect x="159.59" y="307.20" width="41.18" height="1.05" fill="#f2edaf" />
<rect x="159.59" y="308.20" width="41.18" height="1.05" fill="#ebf7df" />
<rect x="159.59" y="309.20" width="41.18" height="1.05" fill="#eff8d4" />
<rect x="159.59" y="310.19" width="41.18" height="1.05" fill="#edf8d9" />
<rect x="159.59" y="311.19" width="41.18" height="1.05" fill="#eef8d8" />
<rect x="159.59" y="312.19" width="41.18" height="1.05" fill="#f0ba7d" />
<rect x="159.59" y="313.19" width="41.18" height="1.05" fill="#f0c484" />
<rect x="159.59" y="314.19" width="41.18" height="1.05" fill="#f2eaa8" />
<rect x="159.59" y="315.19" width="41.18" height="1.05" fill="#f2ecab" />
<rect x="159.59" y="316.19" width="41.18" height="1.05" fill="#f2e49f" />
<rect x="159.59" y="317.19" width="41.18" height="1.05" fill="#f2ecac" />
<rect x="159.59" y="318.18" width="41.18" height="1.05" fill="#f2e9a7" />
<rect x="159.59" y="319.18" width="41.18" height="1.05" fill="#f0d392" />
<rect x="159.59" y="320.18" width="41.18" height="1.05" fill="#cde6ed" />
<rect x="159.59" y="321.18" width="41.18" height="1.05" fill="#cce6ed" />
<rect x="159.59" y="322.18" width="41.18" height="1.05" fill="#f2ecad" />
<rect x="159.59" y="323.18" width="41.18" height="1.05" fill="#f1f7c8" />
<rect x="159.59" y="324.18" width="41.18" height="1.05" fill="#f2efb2" />
<rect x="159.59" y="325.18" width="41.18" height="1.05" fill="#b1d3e4" />
<rect x="159.59" y="326.18" width="41.18" height="1.05" fill="#add0e2" />
<rect x="159.59" y="327.17" width="41.18" height="1.05" fill="#b4d5e5" />
<rect x="159.59" y="328.17" width="41.18" height="1.05" fill="#b1d4e4" />
<rect x="159.59" y="329.17" width="41.18" height="1.05" fill="#e1f2ed" />
<rect x="159.59" y="330.17" width="41.18" height="1.05" fill="#d4ebef" />
<rect x="159.59" y="331.17" width="41.18" height="1.05" fill="#dcf0f0" />
<rect x="159.59" y="332.17" width="41.18" height="1.05" fill="#d5ebef" />
<rect x="159.59" y="333.17" width="41.18" height="1.05" fill="#e1f2ed" />
<rect x="159.59" y="334.17" width="41.18" height="1.05" fill="#b9d9e7" />
<rect x="159.59" y="335.16" width="41.18" height="1.05" fill="#a7cce0" />
<rect x="159.59" y="336.16" width="41.18" height="1.05" fill="#b8d9e7" />
<rect x="159.59" y="337.16" width="41.18" height="1.05" fill="#cee7ed" />
<rect x="159.59" y="338.16" width="41.18" height="1.05" fill="#ddf0ef" />
<rect x="159.59" y="339.16" width="41.18" height="1.05" fill="#d4eaef" />
<rect x="159.59" y="340.16" width="41.18" height="1.05" fill="#6896c8" />
<rect x="159.59" y="341.16" width="41.18" height="1.05" fill="#7ca8d2" />
<rect x="159.59" y="342.16" width="41.18" height="1.05" fill="#8ab6d9" />
<rect x="159.59" y="343.15" width="41.18" height="1.05" fill="#83afd6" />
<rect x="159.59" y="344.15" width="41.18" height="1.05" fill="#8ab6d9" />
<rect x="159.59" y="345.15" width="41.18" height="1.05" fill="#99c2de" />
<rect x="159.59" y="346.15" width="41.18" height="1.05" fill="#98c2dd" />
<rect x="159.59" y="347.15" width="41.18" height="1.05" fill="#a5cae0" />
<rect x="159.59" y="348.15" width="41.18" height="1.05" fill="#9dc5de" />
<rect x="159.59" y="349.15" width="41.18" height="1.05" fill="#95c0dd" />
<rect x="159.59" y="350.15" width="41.18" height="1.05" fill="#6693c6" />
<rect x="159.59" y="351.15" width="41.18" height="2.05" fill="#719fcd" />
<rect x="159.59" y="353.14" width="41.18" height="1.05" fill="#6e9ccc" />
<rect x="159.59" y="354.14" width="41.18" height="1.05" fill="#73a0ce" />
<rect x="159.59" y="355.14" width="41.18" height="1.05" fill="#cce5ed" />
<rect x="159.59" y="356.14" width="41.18" height="1.05" fill="#afd1e3" />
<rect x="159.59" y="357.14" width="41.18" height="1.05" fill="#a8cce0" />
<rect x="159.59" y="358.14" width="41.18" height="1.05" fill="#accfe2" />
<rect x="159.59" y="359.14" width="41.18" height="1.05" fill="#a7cbe0" />
<rect x="159.59" y="360.13" width="41.18" height="1.05" fill="#aed1e3" />
<rect x="159.59" y="361.13" width="41.18" height="1.05" fill="#b5d6e5" />
<rect x="159.59" y="362.13" width="41.18" height="1.05" fill="#bbdbe8" />
<rect x="159.59" y="363.13" width="41.18" height="1.05" fill="#aed1e2" />
<rect x="159.59" y="364.13" width="41.18" height="1.05" fill="#b6d7e6" />
<rect x="159.59" y="365.13" width="41.18" height="1.05" fill="#bddde8" />
<rect x="159.59" y="366.13" width="41.18" height="1.05" fill="#cbe5ec" />
<rect x="159.59" y="367.13" width="41.18" height="1.05" fill="#c6e2eb" />
<rect x="159.59" y="368.12" width="41.18" height="1.05" fill="#6592c6" />
<rect x="159.59" y="369.12" width="41.18" height="1.05" fill="#7fabd4" />
<rect x="159.59" y="370.12" width="41.18" height="1.05" fill="#6997c9" />
<rect x="159.59" y="371.12" width="41.18" height="1.05" fill="#73a1ce" />
<rect x="159.59" y="372.12" width="41.18" height="1.05" fill="#6492c6" />
<rect x="159.59" y="373.12" width="41.18" height="1.05" fill="#608dc3" />
<rect x="159.59" y="374.12" width="41.18" height="1.05" fill="#7aa6d1" />
<rect x="159.59" y="375.12" width="41.18" height="1.05" fill="#6391c5" />
<rect x="159.59" y="376.12" width="41.18" height="1.05" fill="#5c89c0" />
<rect x="159.59" y="377.11" width="41.18" height="1.05" fill="#709ecd" />
<rect x="159.59" y="378.11" width="41.18" height="1.05" fill="#628fc4" />
<rect x="159.59" y="379.11" width="41.18" height="1.05" fill="#709ecd" />
<rect x="159.59" y="380.11" width="41.18" height="1.05" fill="#85b1d7" />
<rect x="159.59" y="381.11" width="41.18" height="1.05" fill="#6e9ccc" />
<rect x="159.59" y="382.11" width="41.18" height="1.05" fill="#76a3d0" />
<rect x="159.59" y="383.11" width="41.18" height="1.05" fill="#8db9db" />
<rect x="159.59" y="384.11" width="41.18" height="1.05" fill="#8ab6d9" />
<rect x="159.59" y="385.10" width="41.18" height="1.05" fill="#cfe7ee" />
<rect x="159.59" y="386.10" width="41.18" height="1.05" fill="#dbeff0" />
<rect x="159.59" y="387.10" width="41.18" height="1.05" fill="#cfe7ee" />
<rect x="159.59" y="388.10" width="41.18" height="1.05" fill="#d3eaee" />
<rect x="159.59" y="389.10" width="41.18" height="1.05" fill="#d1e9ee" />
<rect x="159.59" y="390.10" width="41.18" height="1.05" fill="#c1dfe9" />
<rect x="159.59" y="391.10" width="41.18" height="1.05" fill="#d2eaee" />
<rect x="159.59" y="392.10" width="41.18" height="1.05" fill="#d0e8ee" />
<rect x="159.59" y="393.10" width="41.18" height="1.05" fill="#f0a472" />
<rect x="159.59" y="394.09" width="41.18" height="1.05" fill="#f1d694" />
<rect x="159.59" y="395.09" width="41.18" height="1.05" fill="#f0cc8c" />
<rect x="159.59" y="396.09" width="41.18" height="1.05" fill="#e97b5a" />
<rect x="159.59" y="397.09" width="41.18" height="1.05" fill="#e86a4a" />
<rect x="159.59" y="398.09" width="41.18" height="1.05" fill="#e86949" />
<rect x="159.59" y="399.09" width="41.18" height="1.05" fill="#e86e4e" />
<rect x="159.59" y="400.09" width="41.18" height="1.05" fill="#e45f43" />
<rect x="159.59" y="401.09" width="41.18" height="1.05" fill="#e66446" />
<rect x="159.59" y="402.08" width="41.18" height="1.05" fill="#ee8e63" />
<rect x="159.59" y="403.08" width="41.18" height="1.05" fill="#f0a774" />
<rect x="159.59" y="404.08" width="41.18" height="1.05" fill="#f09c6d" />
<rect x="159.59" y="405.08" width="41.18" height="1.05" fill="#dc3f31" />
<rect x="159.59" y="406.08" width="41.18" height="1.05" fill="#de4534" />
<rect x="159.59" y="407.08" width="41.18" height="1.05" fill="#de4836" />
<rect x="159.59" y="408.08" width="41.18" height="1.05" fill="#dc4031" />
<rect x="159.59" y="409.08" width="41.18" height="1.05" fill="#dd4333" />
<rect x="159.59" y="410.07" width="41.18" height="1.05" fill="#e0503a" />
<rect x="159.59" y="411.07" width="41.18" height="1.05" fill="#d83a2e" />
<rect x="159.59" y="412.07" width="41.18" height="1.05" fill="#de4936" />
<rect x="159.59" y="413.07" width="41.18" height="3.05" fill="#d83a2e" />
<rect x="159.59" y="416.07" width="41.18" height="1.05" fill="#de4835" />
<rect x="159.59" y="417.07" width="41.18" height="1.05" fill="#e04f39" />
<rect x="159.59" y="418.07" width="41.18" height="1.05" fill="#d83a2e" />
<rect x="159.59" y="419.06" width="41.18" height="1.05" fill="#da3c2f" />
<rect x="159.59" y="420.06" width="41.18" height="1.05" fill="#f0ad76" />
<rect x="159.59" y="421.06" width="41.18" height="1.05" fill="#f0b279" />
<rect x="159.59" y="422.06" width="41.18" height="1.05" fill="#f2e9a7" />
<rect x="159.59" y="423.06" width="41.18" height="1.05" fill="#f2e8a5" />
<rect x="159.59" y="424.06" width="41.18" height="1.05" fill="#f2e8a3" />
<rect x="159.59" y="425.06" width="41.18" height="1.05" fill="#e86d4d" />
<rect x="159.59" y="426.06" width="41.18" height="1.05" fill="#ea805c" />
<rect x="159.59" y="427.05" width="41.18" height="1.05" fill="#e0513b" />
<rect x="159.59" y="428.05" width="41.18" height="1.05" fill="#f0d493" />
<rect x="159.59" y="429.05" width="41.18" height="1.05" fill="#f0d090" />
<rect x="159.59" y="430.05" width="41.18" height="1.05" fill="#e97a59" />
<rect x="159.59" y="431.05" width="41.18" height="1.05" fill="#eb845e" />
<rect x="159.59" y="432.05" width="41.18" height="1.05" fill="#e76547" />
<rect x="159.59" y="433.05" width="41.18" height="1.05" fill="#e86f4f" />
<rect x="159.59" y="434.05" width="41.18" height="1.05" fill="#e66345" />
<rect x="159.59" y="435.05" width="41.18" height="1.05" fill="#f0c787" />
<rect x="159.59" y="436.04" width="41.18" height="1.05" fill="#f0bb7e" />
<rect x="159.59" y="437.04" width="41.18" height="1.05" fill="#f0d090" />
<rect x="159.59" y="438.04" width="41.18" height="1.05" fill="#f0ca8a" />
<rect x="159.59" y="439.04" width="41.18" height="1.05" fill="#f2f1b5" />
<rect x="159.59" y="440.04" width="41.18" height="1.05" fill="#f2f5bf" />
<rect x="159.59" y="441.04" width="41.18" height="1.05" fill="#ef9668" />
<rect x="159.59" y="442.04" width="41.18" height="1.05" fill="#ec8760" />
<rect x="159.59" y="443.04" width="41.18" height="1.05" fill="#e87555" />
<rect x="159.59" y="444.03" width="41.18" height="1.05" fill="#ee9366" />
<rect x="159.59" y="445.03" width="41.18" height="1.05" fill="#f1dd9a" />
<rect x="159.59" y="446.03" width="41.18" height="1.05" fill="#f0c989" />
<rect x="159.59" y="447.03" width="41.18" height="1.05" fill="#f0c080" />
<rect x="159.59" y="448.03" width="41.18" height="1.05" fill="#f0b279" />
<rect x="159.59" y="449.03" width="41.18" height="1.05" fill="#f0ad77" />
<rect x="159.59" y="450.03" width="41.18" height="1.05" fill="#f0c888" />
<rect x="159.59" y="451.03" width="41.18" height="1.05" fill="#f0ad76" />
<rect x="159.59" y="452.02" width="41.18" height="1.05" fill="#f0b57b" />
<rect x="159.59" y="453.02" width="41.18" height="1.05" fill="#f2f3ba" />
<rect x="159.59" y="454.02" width="41.18" height="1.05" fill="#f2f5bf" />
<rect x="159.59" y="455.02" width="41.18" height="1.05" fill="#f1f6c4" />
<rect x="159.59" y="456.02" width="41.18" height="1.05" fill="#eff7d2" />
<rect x="159.59" y="457.02" width="41.18" height="1.05" fill="#f1da98" />
<rect x="159.59" y="458.02" width="41.18" height="2.05" fill="#f2e6a0" />
<rect x="159.59" y="460.02" width="41.18" height="1.05" fill="#f2ecad" />
<rect x="159.59" y="461.01" width="41.18" height="1.05" fill="#f2e9a6" />
<rect x="159.59" y="462.01" width="41.18" height="1.05" fill="#f2e9a5" />
<rect x="159.59" y="463.01" width="41.18" height="1.05" fill="#f1de9a" />
<rect x="159.59" y="464.01" width="41.18" height="1.05" fill="#f1dc99" />
<rect x="159.59" y="465.01" width="41.18" height="1.05" fill="#f2e9a6" />
<rect x="159.59" y="466.01" width="41.18" height="1.05" fill="#f1de9a" />
<rect x="159.59" y="467.01" width="41.18" height="1.05" fill="#f2eeb0" />
<rect x="159.59" y="468.01" width="41.18" height="1.05" fill="#f2ebaa" />
<rect x="159.59" y="469.00" width="41.18" height="1.05" fill="#d5ecef" />
<rect x="159.59" y="470.00" width="41.18" height="1.05" fill="#d8edef" />
<rect x="159.59" y="471.00" width="41.18" height="1.05" fill="#d3eaef" />
<rect x="159.59" y="472.00" width="41.18" height="1.05" fill="#f2f0b4" />
<rect x="200.72" y="305.20" width="41.18" height="1.05" fill="#628fc4" />
<rect x="200.72" y="306.20" width="41.18" height="1.05" fill="#75a2cf" />
<rect x="200.72" y="307.20" width="41.18" height="1.05" fill="#5a87bf" />
<rect x="200.72" y="308.20" width="41.18" height="1.05" fill="#a8cce0" />
<rect x="200.72" y="309.20" width="41.18" height="1.05" fill="#9dc5de" />
<rect x="200.72" y="310.19" width="41.18" height="1.05" fill="#7ca8d2" />
<rect x="200.72" y="311.19" width="41.18" height="1.05" fill="#76a3cf" />
<rect x="200.72" y="312.19" width="41.18" height="1.05" fill="#6c9acb" />
<rect x="200.72" y="313.19" width="41.18" height="1.05" fill="#6996c8" />
<rect x="200.72" y="314.19" width="41.18" height="1.05" fill="#77a4d0" />
<rect x="200.72" y="315.19" width="41.18" height="1.05" fill="#72a0ce" />
<rect x="200.72" y="316.19" width="41.18" height="1.05" fill="#b4d6e5" />
<rect x="200.72" y="317.19" width="41.18" height="1.05" fill="#a0c7df" />
<rect x="200.72" y="318.18" width="41.18" height="1.05" fill="#98c1dd" />
<rect x="200.72" y="319.18" width="41.18" height="1.05" fill="#f2f4bc" />
<rect x="200.72" y="320.18" width="41.18" height="1.05" fill="#f2f1b6" />
<rect x="200.72" y="321.18" width="41.18" height="1.05" fill="#f2eeb0" />
<rect x="200.72" y="322.18" width="41.18" height="1.05" fill="#f2f0b4" />
<rect x="200.72" y="323.18" width="41.18" height="1.05" fill="#afd2e3" />
<rect x="200.72" y="324.18" width="41.18" height="1.05" fill="#b7d8e6" />
<rect x="200.72" y="325.18" width="41.18" height="1.05" fill="#bfdee9" />
<rect x="200.72" y="326.18" width="41.18" height="1.05" fill="#c1dfe9" />
<rect x="200.72" y="327.17" width="41.18" height="1.05" fill="#d2e9ee" />
<rect x="200.72" y="328.17" width="41.18" height="1.05" fill="#c7e3eb" />
<rect x="200.72" y="329.17" width="41.18" height="1.05" fill="#cae4ec" />
<rect x="200.72" y="330.17" width="41.18" height="1.05" fill="#c6e2eb" />
<rect x="200.72" y="331.17" width="41.18" height="1.05" fill="#cbe5ed" />
<rect x="200.72" y="332.17" width="41.18" height="1.05" fill="#b9dae7" />
<rect x="200.72" y="333.17" width="41.18" height="1.05" fill="#dcf0f0" />
<rect x="200.72" y="334.17" width="41.18" height="1.05" fill="#eff8d4" />
<rect x="200.72" y="335.16" width="41.18" height="1.05" fill="#eef8d6" />
<rect x="200.72" y="336.16" width="41.18" height="1.05" fill="#8fbbdc" />
<rect x="200.72" y="337.16" width="41.18" height="1.05" fill="#a7cbe0" />
<rect x="200.72" y="338.16" width="41.18" height="1.05" fill="#f2ecac" />
<rect x="200.72" y="339.16" width="41.18" height="1.05" fill="#f1de9a" />
<rect x="200.72" y="340.16" width="41.18" height="1.05" fill="#f0d594" />
<rect x="200.72" y="341.16" width="41.18" height="1.05" fill="#f1db98" />
<rect x="200.72" y="342.16" width="41.18" height="1.05" fill="#f2e6a0" />
<rect x="200.72" y="343.15" width="41.18" height="1.05" fill="#f0c383" />
<rect x="200.72" y="344.15" width="41.18" height="1.05" fill="#f0d593" />
<rect x="200.72" y="345.15" width="41.18" height="1.05" fill="#f0d392" />
<rect x="200.72" y="346.15" width="41.18" height="1.05" fill="#f0d292" />
<rect x="200.72" y="347.15" width="41.18" height="1.05" fill="#f1d896" />
<rect x="200.72" y="348.15" width="41.18" height="1.05" fill="#f0ce8e" />
<rect x="200.72" y="349.15" width="41.18" height="1.05" fill="#f1e09b" />
<rect x="200.72" y="350.15" width="41.18" height="1.05" fill="#f2e59f" />
<rect x="200.72" y="351.15" width="41.18" height="1.05" fill="#f0c484" />
<rect x="200.72" y="352.14" width="41.18" height="1.05" fill="#f0be7f" />
<rect x="200.72" y="353.14" width="41.18" height="1.05" fill="#f0b77b" />
<rect x="200.72" y="354.14" width="41.18" height="1.05" fill="#f0aa75" />
<rect x="200.72" y="355.14" width="41.18" height="1.05" fill="#f2f1b6" />
<rect x="200.72" y="356.14" width="41.18" height="1.05" fill="#f2f6bf" />
<rect x="200.72" y="357.14" width="41.18" height="1.05" fill="#f2efb3" />
<rect x="200.72" y="358.14" width="41.18" height="1.05" fill="#f2f4bc" />
<rect x="200.72" y="359.14" width="41.18" height="1.05" fill="#f2f5bf" />
<rect x="200.72" y="360.13" width="41.18" height="1.05" fill="#f0f7cd" />
<rect x="200.72" y="361.13" width="41.18" height="1.05" fill="#f0f7ca" />
<rect x="200.72" y="362.13" width="41.18" height="1.05" fill="#f2f4bc" />
<rect x="200.72" y="363.13" width="41.18" height="1.05" fill="#edf7db" />
<rect x="200.72" y="364.13" width="41.18" height="1.05" fill="#edf8da" />
<rect x="200.72" y="365.13" width="41.18" height="1.05" fill="#f2e7a2" />
<rect x="200.72" y="366.13" width="41.18" height="1.05" fill="#f2e29d" />
<rect x="200.72" y="367.13" width="41.18" height="1.05" fill="#e8f6e5" />
<rect x="200.72" y="368.12" width="41.18" height="1.05" fill="#e4f4eb" />
<rect x="200.72" y="369.12" width="41.18" height="1.05" fill="#eef8d9" />
<rect x="200.72" y="370.12" width="41.18" height="1.05" fill="#eaf7e0" />
<rect x="200.72" y="371.12" width="41.18" height="1.05" fill="#edf8db" />
<rect x="200.72" y="372.12" width="41.18" height="1.05" fill="#def1ef" />
<rect x="200.72" y="373.12" width="41.18" height="1.05" fill="#e7f5e7" />
<rect x="200.72" y="374.12" width="41.18" height="1.05" fill="#f0f7cf" />
<rect x="200.72" y="375.12" width="41.18" height="1.05" fill="#eff7d0" />
<rect x="200.72" y="376.12" width="41.18" height="1.05" fill="#f2f2b9" />
<rect x="200.72" y="377.11" width="41.18" height="1.05" fill="#f2f2b7" />
<rect x="200.72" y="378.11" width="41.18" height="1.05" fill="#f1f7c7" />
<rect x="200.72" y="379.11" width="41.18" height="1.05" fill="#f2eaa9" />
<rect x="200.72" y="380.11" width="41.18" height="1.05" fill="#f1dc99" />
<rect x="200.72" y="381.11" width="41.18" height="1.05" fill="#f2e49e" />
<rect x="200.72" y="382.11" width="41.18" height="1.05" fill="#f2eaa7" />
<rect x="200.72" y="383.11" width="41.18" height="1.05" fill="#f2e59f" />
<rect x="200.72" y="384.11" width="41.18" height="1.05" fill="#eef8d7" />
<rect x="200.72" y="385.10" width="41.18" height="1.05" fill="#9cc4de" />
<rect x="200.72" y="386.10" width="41.18" height="1.05" fill="#a6cbe0" />
<rect x="200.72" y="387.10" width="41.18" height="1.05" fill="#b0d3e3" />
<rect x="200.72" y="388.10" width="41.18" height="1.05" fill="#b4d6e5" />
<rect x="200.72" y="389.10" width="41.18" height="1.05" fill="#9dc5de" />
<rect x="200.72" y="390.10" width="41.18" height="1.05" fill="#a2c8df" />
<rect x="200.72" y="391.10" width="41.18" height="1.05" fill="#a5cae0" />
<rect x="200.72" y="392.10" width="41.18" height="1.05" fill="#ebf7df" />
<rect x="200.72" y="393.10" width="41.18" height="1.05" fill="#f0d291" />
<rect x="200.72" y="394.09" width="41.18" height="1.05" fill="#f1d996" />
<rect x="200.72" y="395.09" width="41.18" height="1.05" fill="#f0d090" />
<rect x="200.72" y="396.09" width="41.18" height="1.05" fill="#f1da97" />
<rect x="200.72" y="397.09" width="41.18" height="1.05" fill="#f0f7cc" />
<rect x="200.72" y="398.09" width="41.18" height="1.05" fill="#f2eba9" />
<rect x="200.72" y="399.09" width="41.18" height="1.05" fill="#eff8d4" />
<rect x="200.72" y="400.09" width="41.18" height="1.05" fill="#edf8da" />
<rect x="200.72" y="401.09" width="41.18" height="1.05" fill="#f1d795" />
<rect x="200.72" y="402.08" width="41.18" height="1.05" fill="#f0c787" />
<rect x="200.72" y="403.08" width="41.18" height="1.05" fill="#f0d292" />
<rect x="200.72" y="404.08" width="41.18" height="1.05" fill="#f2e39e" />
<rect x="200.72" y="405.08" width="41.18" height="1.05" fill="#e2f3ed" />
<rect x="200.72" y="406.08" width="41.18" height="1.05" fill="#e1f2ed" />
<rect x="200.72" y="407.08" width="41.18" height="1.05" fill="#e0f2ee" />
<rect x="200.72" y="408.08" width="41.18" height="1.05" fill="#e1f2ed" />
<rect x="200.72" y="409.08" width="41.18" height="1.05" fill="#e3f4ec" />
<rect x="200.72" y="410.07" width="41.18" height="1.05" fill="#e5f5ea" />
<rect x="200.72" y="411.07" width="41.18" height="1.05" fill="#e6f5e9" />
<rect x="200.72" y="412.07" width="41.18" height="1.05" fill="#e5f4eb" />
<rect x="200.72" y="413.07" width="41.18" height="1.05" fill="#def1ef" />
<rect x="200.72" y="414.07" width="41.18" height="1.05" fill="#d2e9ee" />
<rect x="200.72" y="415.07" width="41.18" height="1.05" fill="#f1f6c4" />
<rect x="200.72" y="416.07" width="41.18" height="1.05" fill="#ebf7df" />
<rect x="200.72" y="417.07" width="41.18" height="1.05" fill="#f2edae" />
<rect x="200.72" y="418.07" width="41.18" height="1.05" fill="#ecf7db" />
<rect x="200.72" y="419.06" width="41.18" height="2.05" fill="#f2f2b7" />
<rect x="200.72" y="421.06" width="41.18" height="1.05" fill="#f2eeb1" />
<rect x="200.72" y="422.06" width="41.18" height="1.05" fill="#f2efb2" />
<rect x="200.72" y="423.06" width="41.18" height="1.05" fill="#f2edad" />
<rect x="200.72" y="424.06" width="41.18" height="1.05" fill="#f0ab75" />
<rect x="200.72" y="425.06" width="41.18" height="1.05" fill="#f0bf7f" />
<rect x="200.72" y="426.06" width="41.18" height="1.05" fill="#f0a170" />
<rect x="200.72" y="427.05" width="41.18" height="1.05" fill="#f0bd7f" />
<rect x="200.72" y="428.05" width="41.18" height="1.05" fill="#f0f7ca" />
<rect x="200.72" y="429.05" width="41.18" height="1.05" fill="#f2ebaa" />
<rect x="200.72" y="430.05" width="41.18" height="1.05" fill="#f2edaf" />
<rect x="200.72" y="431.05" width="41.18" height="1.05" fill="#f2f6c1" />
<rect x="200.72" y="432.05" width="41.18" height="1.05" fill="#edf8db" />
<rect x="200.72" y="433.05" width="41.18" height="1.05" fill="#f0f7ca" />
<rect x="200.72" y="434.05" width="41.18" height="1.05" fill="#f0f7cb" />
<rect x="200.72" y="435.05" width="41.18" height="1.05" fill="#d4ebef" />
<rect x="200.72" y="436.04" width="41.18" height="1.05" fill="#f2efb2" />
<rect x="200.72" y="437.04" width="41.18" height="1.05" fill="#eaf6e2" />
<rect x="200.72" y="438.04" width="41.18" height="1.05" fill="#f2f6bf" />
<rect x="200.72" y="439.04" width="41.18" height="1.05" fill="#f2f4bb" />
<rect x="200.72" y="440.04" width="41.18" height="1.05" fill="#f2f6c2" />
<rect x="200.72" y="441.04" width="41.18" height="1.05" fill="#f2eba9" />
<rect x="200.72" y="442.04" width="41.18" height="1.05" fill="#f2f6bf" />
<rect x="200.72" y="443.04" width="41.18" height="1.05" fill="#f2ecac" />
<rect x="200.72" y="444.03" width="41.18" height="1.05" fill="#f2e8a5" />
<rect x="200.72" y="445.03" width="41.18" height="1.05" fill="#f2f1b7" />
<rect x="200.72" y="446.03" width="41.18" height="1.05" fill="#f2eba9" />
<rect x="200.72" y="447.03" width="41.18" height="1.05" fill="#f2ecad" />
<rect x="200.72" y="448.03" width="41.18" height="1.05" fill="#f1f7c8" />
<rect x="200.72" y="449.03" width="41.18" height="1.05" fill="#f0c888" />
<rect x="200.72" y="450.03" width="41.18" height="1.05" fill="#f1e09c" />
<rect x="200.72" y="451.03" width="41.18" height="1.05" fill="#f2f0b4" />
<rect x="200.72" y="452.02" width="41.18" height="1.05" fill="#ef9b6c" />
<rect x="200.72" y="453.02" width="41.18" height="1.05" fill="#ef9769" />
<rect x="200.72" y="454.02" width="41.18" height="1.05" fill="#f0b078" />
<rect x="200.72" y="455.02" width="41.18" height="1.05" fill="#e87151" />
<rect x="200.72" y="456.02" width="41.18" height="1.05" fill="#e66345" />
<rect x="200.72" y="457.02" width="41.18" height="1.05" fill="#e76546" />
<rect x="200.72" y="458.02" width="41.18" height="1.05" fill="#e97a59" />
<rect x="200.72" y="459.02" width="41.18" height="1.05" fill="#ee9366" />
<rect x="200.72" y="460.02" width="41.18" height="1.05" fill="#ef9c6d" />
<rect x="200.72" y="461.01" width="41.18" height="1.05" fill="#f09f6f" />
<rect x="200.72" y="462.01" width="41.18" height="1.05" fill="#ed8d62" />
<rect x="200.72" y="463.01" width="41.18" height="1.05" fill="#ef9769" />
<rect x="200.72" y="464.01" width="41.18" height="1.05" fill="#e86949" />
<rect x="200.72" y="465.01" width="41.18" height="1.05" fill="#e56245" />
<rect x="200.72" y="466.01" width="41.18" height="1.05" fill="#e76547" />
<rect x="200.72" y="467.01" width="41.18" height="1.05" fill="#f0b078" />
<rect x="200.72" y="468.01" width="41.18" height="1.05" fill="#f0c787" />
<rect x="200.72" y="469.00" width="41.18" height="1.05" fill="#f1da97" />
<rect x="200.72" y="470.00" width="41.18" height="1.05" fill="#ee9265" />
<rect x="200.72" y="471.00" width="41.18" height="1.05" fill="#ef9b6c" />
<rect x="200.72" y="472.00" width="41.18" height="1.05" fill="#f09f6f" />
<rect x="241.85" y="305.20" width="41.18" height="1.05" fill="#ecf7dc" />
<rect x="241.85" y="306.20" width="41.18" height="1.05" fill="#ecf7de" />
<rect x="241.85" y="307.20" width="41.18" height="1.05" fill="#ecf7db" />
<rect x="241.85" y="308.20" width="41.18" height="1.05" fill="#e7f6e7" />
<rect x="241.85" y="309.20" width="41.18" height="1.05" fill="#eff8d3" />
<rect x="241.85" y="310.19" width="41.18" height="1.05" fill="#bddde8" />
<rect x="241.85" y="311.19" width="41.18" height="1.05" fill="#b1d3e3" />
<rect x="241.85" y="312.19" width="41.18" height="1.05" fill="#dbeff0" />
<rect x="241.85" y="313.19" width="41.18" height="1.05" fill="#d7ecef" />
<rect x="241.85" y="314.19" width="41.18" height="1.05" fill="#d9eeef" />
<rect x="241.85" y="315.19" width="41.18" height="1.05" fill="#f2f3b9" />
<rect x="241.85" y="316.19" width="41.18" height="1.05" fill="#f2e49f" />
<rect x="241.85" y="317.19" width="41.18" height="1.05" fill="#d4ebef" />
<rect x="241.85" y="318.18" width="41.18" height="1.05" fill="#def1ef" />
<rect x="241.85" y="319.18" width="41.18" height="1.05" fill="#8bb7d9" />
<rect x="241.85" y="320.18" width="41.18" height="1.05" fill="#88b4d8" />
<rect x="241.85" y="321.18" width="41.18" height="1.05" fill="#93bedd" />
<rect x="241.85" y="322.18" width="41.18" height="1.05" fill="#80acd4" />
<rect x="241.85" y="323.18" width="41.18" height="1.05" fill="#81add4" />
<rect x="241.85" y="324.18" width="41.18" height="1.05" fill="#d9eeef" />
<rect x="241.85" y="325.18" width="41.18" height="1.05" fill="#cfe7ee" />
<rect x="241.85" y="326.18" width="41.18" height="1.05" fill="#e0f2ee" />
<rect x="241.85" y="327.17" width="41.18" height="1.05" fill="#d0e8ee" />
<rect x="241.85" y="328.17" width="41.18" height="1.05" fill="#ddf0f0" />
<rect x="241.85" y="329.17" width="41.18" height="1.05" fill="#c5e1eb" />
<rect x="241.85" y="330.17" width="41.18" height="1.05" fill="#add0e2" />
<rect x="241.85" y="331.17" width="41.18" height="2.05" fill="#b5d6e5" />
<rect x="241.85" y="333.17" width="41.18" height="1.05" fill="#cbe5ed" />
<rect x="241.85" y="334.17" width="41.18" height="1.05" fill="#f2f4bd" />
<rect x="241.85" y="335.16" width="41.18" height="1.05" fill="#eef8d9" />
<rect x="241.85" y="336.16" width="41.18" height="1.05" fill="#f2efb2" />
<rect x="241.85" y="337.16" width="41.18" height="1.05" fill="#f2efb3" />
<rect x="241.85" y="338.16" width="41.18" height="1.05" fill="#b8d9e7" />
<rect x="241.85" y="339.16" width="41.18" height="1.05" fill="#b0d2e3" />
<rect x="241.85" y="340.16" width="41.18" height="1.05" fill="#eef8d7" />
<rect x="241.85" y="341.16" width="41.18" height="1.05" fill="#e1f3ed" />
<rect x="241.85" y="342.16" width="41.18" height="1.05" fill="#d3eaee" />
<rect x="241.85" y="343.15" width="41.18" height="1.05" fill="#e7f5e8" />
<rect x="241.85" y="344.15" width="41.18" height="1.05" fill="#e9f6e4" />
<rect x="241.85" y="345.15" width="41.18" height="1.05" fill="#d1e9ee" />
<rect x="241.85" y="346.15" width="41.18" height="1.05" fill="#e8f6e5" />
<rect x="241.85" y="347.15" width="41.18" height="1.05" fill="#f0f7ce" />
<rect x="241.85" y="348.15" width="41.18" height="1.05" fill="#eef8d8" />
<rect x="241.85" y="349.15" width="41.18" height="1.05" fill="#ebf7e0" />
<rect x="241.85" y="350.15" width="41.18" height="1.05" fill="#eff8d3" />
<rect x="241.85" y="351.15" width="41.18" height="1.05" fill="#eaf7e1" />
<rect x="241.85" y="352.14" width="41.18" height="1.05" fill="#eef8d6" />
<rect x="241.85" y="353.14" width="41.18" height="1.05" fill="#edf8db" />
<rect x="241.85" y="354.14" width="41.18" height="1.05" fill="#add0e2" />
<rect x="241.85" y="355.14" width="41.18" height="1.05" fill="#b8d9e7" />
<rect x="241.85" y="356.14" width="41.18" height="1.05" fill="#d7edef" />
<rect x="241.85" y="357.14" width="41.18" height="1.05" fill="#d6ecef" />
<rect x="241.85" y="358.14" width="41.18" height="1.05" fill="#d3eaef" />
<rect x="241.85" y="359.14" width="41.18" height="1.05" fill="#dcf0f0" />
<rect x="241.85" y="360.13" width="41.18" height="1.05" fill="#add0e2" />
<rect x="241.85" y="361.13" width="41.18" height="1.05" fill="#bddce8" />
<rect x="241.85" y="362.13" width="41.18" height="1.05" fill="#ebf7df" />
<rect x="241.85" y="363.13" width="41.18" height="1.05" fill="#eff8d3" />
<rect x="241.85" y="364.13" width="41.18" height="1.05" fill="#def1ef" />
<rect x="241.85" y="365.13" width="41.18" height="1.05" fill="#add0e2" />
<rect x="241.85" y="366.13" width="41.18" height="1.05" fill="#aed1e2" />
<rect x="241.85" y="367.13" width="41.18" height="1.05" fill="#f1f6c3" />
<rect x="241.85" y="368.12" width="41.18" height="1.05" fill="#f2eaa9" />
<rect x="241.85" y="369.12" width="41.18" height="1.05" fill="#f2f6c3" />
<rect x="241.85" y="370.12" width="41.18" height="1.05" fill="#f1f7c7" />
<rect x="241.85" y="371.12" width="41.18" height="1.05" fill="#f2e9a5" />
<rect x="241.85" y="372.12" width="41.18" height="1.05" fill="#f2e59f" />
<rect x="241.85" y="373.12" width="41.18" height="1.05" fill="#f2ecad" />
<rect x="241.85" y="374.12" width="41.18" height="1.05" fill="#f0d090" />
<rect x="241.85" y="375.12" width="41.18" height="1.05" fill="#f2ebaa" />
<rect x="241.85" y="376.12" width="41.18" height="1.05" fill="#f0d593" />
<rect x="241.85" y="377.11" width="41.18" height="1.05" fill="#f1da97" />
<rect x="241.85" y="378.11" width="41.18" height="1.05" fill="#f1d795" />
<rect x="241.85" y="379.11" width="41.18" height="1.05" fill="#f2ecac" />
<rect x="241.85" y="380.11" width="41.18" height="1.05" fill="#f1f6c4" />
<rect x="241.85" y="381.11" width="41.18" height="1.05" fill="#f2f3bb" />
<rect x="241.85" y="382.11" width="41.18" height="1.05" fill="#f2f4bd" />
<rect x="241.85" y="383.11" width="41.18" height="1.05" fill="#f1f7c9" />
<rect x="241.85" y="384.11" width="41.18" height="1.05" fill="#f0f7cb" />
<rect x="241.85" y="385.10" width="41.18" height="1.05" fill="#f2e8a5" />
<rect x="241.85" y="386.10" width="41.18" height="1.05" fill="#f1d996" />
<rect x="241.85" y="387.10" width="41.18" height="1.05" fill="#f2f2b8" />
<rect x="241.85" y="388.10" width="41.18" height="1.05" fill="#f2ecab" />
<rect x="241.85" y="389.10" width="41.18" height="1.05" fill="#f1f6c5" />
<rect x="241.85" y="390.10" width="41.18" height="1.05" fill="#f2f0b5" />
<rect x="241.85" y="391.10" width="41.18" height="1.05" fill="#f1f7c7" />
<rect x="241.85" y="392.10" width="41.18" height="1.05" fill="#f2f1b5" />
<rect x="241.85" y="393.10" width="41.18" height="1.05" fill="#f0a975" />
<rect x="241.85" y="394.09" width="41.18" height="1.05" fill="#f0b279" />
<rect x="241.85" y="395.09" width="41.18" height="1.05" fill="#f0c484" />
<rect x="241.85" y="396.09" width="41.18" height="1.05" fill="#f2e49f" />
<rect x="241.85" y="397.09" width="41.18" height="1.05" fill="#f0d493" />
<rect x="241.85" y="398.09" width="41.18" height="1.05" fill="#f0c484" />
<rect x="241.85" y="399.09" width="41.18" height="1.05" fill="#f0d292" />
<rect x="241.85" y="400.09" width="41.18" height="1.05" fill="#f0bd7e" />
<rect x="241.85" y="401.09" width="41.18" height="1.05" fill="#f1d694" />
<rect x="241.85" y="402.08" width="41.18" height="1.05" fill="#f0d392" />
<rect x="241.85" y="403.08" width="41.18" height="1.05" fill="#f1f7c8" />
<rect x="241.85" y="404.08" width="41.18" height="1.05" fill="#eff8d2" />
<rect x="241.85" y="405.08" width="41.18" height="1.05" fill="#f0f7ca" />
<rect x="241.85" y="406.08" width="41.18" height="1.05" fill="#f2e49e" />
<rect x="241.85" y="407.08" width="41.18" height="1.05" fill="#f2e7a2" />
<rect x="241.85" y="408.08" width="41.18" height="1.05" fill="#f2f0b3" />
<rect x="241.85" y="409.08" width="41.18" height="1.05" fill="#f2f3b9" />
<rect x="241.85" y="410.07" width="41.18" height="1.05" fill="#f2eaa8" />
<rect x="241.85" y="411.07" width="41.18" height="1.05" fill="#f1f7c6" />
<rect x="241.85" y="412.07" width="41.18" height="1.05" fill="#eff7cf" />
<rect x="241.85" y="413.07" width="41.18" height="1.05" fill="#f2f6c0" />
<rect x="241.85" y="414.07" width="41.18" height="1.05" fill="#f2ebaa" />
<rect x="241.85" y="415.07" width="41.18" height="1.05" fill="#f2f4bc" />
<rect x="241.85" y="416.07" width="41.18" height="1.05" fill="#eff8d5" />
<rect x="241.85" y="417.07" width="41.18" height="1.05" fill="#f1da97" />
<rect x="241.85" y="418.07" width="41.18" height="1.05" fill="#f2f6c1" />
<rect x="241.85" y="419.06" width="41.18" height="1.05" fill="#f2f2b8" />
<rect x="241.85" y="420.06" width="41.18" height="1.05" fill="#ef996b" />
<rect x="241.85" y="421.06" width="41.18" height="1.05" fill="#ef9b6c" />
<rect x="241.85" y="422.06" width="41.18" height="1.05" fill="#f0a372" />
<rect x="241.85" y="423.06" width="41.18" height="1.05" fill="#f2f0b4" />
<rect x="241.85" y="424.06" width="41.18" height="1.05" fill="#f2e19c" />
<rect x="241.85" y="425.06" width="41.18" height="1.05" fill="#f2ecac" />
<rect x="241.85" y="426.06" width="41.18" height="1.05" fill="#f1d695" />
<rect x="241.85" y="427.05" width="41.18" height="1.05" fill="#f0cc8c" />
<rect x="241.85" y="428.05" width="41.18" height="1.05" fill="#f1d896" />
<rect x="241.85" y="429.05" width="41.18" height="1.05" fill="#f2e7a1" />
<rect x="241.85" y="430.05" width="41.18" height="1.05" fill="#f1db98" />
<rect x="241.85" y="431.05" width="41.18" height="1.05" fill="#f0ce8e" />
<rect x="241.85" y="432.05" width="41.18" height="1.05" fill="#f0cc8c" />
<rect x="241.85" y="433.05" width="41.18" height="1.05" fill="#f1d997" />
<rect x="241.85" y="434.05" width="41.18" height="1.05" fill="#f0ca8a" />
<rect x="241.85" y="435.05" width="41.18" height="1.05" fill="#f0c787" />
<rect x="241.85" y="436.04" width="41.18" height="1.05" fill="#f0bc7e" />
<rect x="241.85" y="437.04" width="41.18" height="1.05" fill="#ed8a61" />
<rect x="241.85" y="438.04" width="41.18" height="1.05" fill="#ed8e63" />
<rect x="241.85" y="439.04" width="41.18" height="1.05" fill="#ee9467" />
<rect x="241.85" y="440.04" width="41.18" height="1.05" fill="#ec8961" />
<rect x="241.85" y="441.04" width="41.18" height="1.05" fill="#f0b179" />
<rect x="241.85" y="442.04" width="41.18" height="1.05" fill="#f0c282" />
<rect x="241.85" y="443.04" width="41.18" height="1.05" fill="#f0c484" />
<rect x="241.85" y="444.03" width="41.18" height="1.05" fill="#e66345" />
<rect x="241.85" y="445.03" width="41.18" height="1.05" fill="#e87958" />
<rect x="241.85" y="446.03" width="41.18" height="1.05" fill="#f0af77" />
<rect x="241.85" y="447.03" width="41.18" height="1.05" fill="#ef976a" />
<rect x="241.85" y="448.03" width="41.18" height="1.05" fill="#f0b87c" />
<rect x="241.85" y="449.03" width="41.18" height="1.05" fill="#f0ce8e" />
<rect x="241.85" y="450.03" width="41.18" height="1.05" fill="#f0af77" />
<rect x="241.85" y="451.03" width="41.18" height="1.05" fill="#f0d493" />
<rect x="241.85" y="452.02" width="41.18" height="1.05" fill="#f0cb8b" />
<rect x="241.85" y="453.02" width="41.18" height="1.05" fill="#f0cc8c" />
<rect x="241.85" y="454.02" width="41.18" height="1.05" fill="#f0ae77" />
<rect x="241.85" y="455.02" width="41.18" height="1.05" fill="#ef9a6b" />
<rect x="241.85" y="456.02" width="41.18" height="1.05" fill="#f1f6c5" />
<rect x="241.85" y="457.02" width="41.18" height="1.05" fill="#f2f5bd" />
<rect x="241.85" y="458.02" width="41.18" height="1.05" fill="#f2f4bd" />
<rect x="241.85" y="459.02" width="41.18" height="1.05" fill="#f0c686" />
<rect x="241.85" y="460.02" width="41.18" height="1.05" fill="#f0d593" />
<rect x="241.85" y="461.01" width="41.18" height="1.05" fill="#f0c282" />
<rect x="241.85" y="462.01" width="41.18" height="1.05" fill="#f0c585" />
<rect x="241.85" y="463.01" width="41.18" height="1.05" fill="#f1e09c" />
<rect x="241.85" y="464.01" width="41.18" height="1.05" fill="#f2edad" />
<rect x="241.85" y="465.01" width="41.18" height="1.05" fill="#f2f5bd" />
<rect x="241.85" y="466.01" width="41.18" height="1.05" fill="#f2f6c3" />
<rect x="241.85" y="467.01" width="41.18" height="1.05" fill="#f1f7c6" />
<rect x="241.85" y="468.01" width="41.18" height="2.05" fill="#e97c5a" />
<rect x="241.85" y="470.00" width="41.18" height="1.05" fill="#f0ba7d" />
<rect x="241.85" y="471.00" width="41.18" height="1.05" fill="#f0aa75" />
<rect x="241.85" y="472.00" width="41.18" height="1.05" fill="#f0a974" />
<defs><linearGradient id="lg" x1="0" y1="1" x2="0" y2="0"><stop offset="0.000" stop-color="#4a76b4"/><stop offset="0.100" stop-color="#6e9ccc"/><stop offset="0.150" stop-color="#80acd4"/><stop offset="0.200" stop-color="#90bcdc"/><stop offset="0.250" stop-color="#a8cce0"/><stop offset="0.300" stop-color="#bcdce8"/><stop offset="0.350" stop-color="#d0e8ee"/><stop offset="0.400" stop-color="#dcf0f0"/><stop offset="0.450" stop-color="#e6f5ea"/><stop offset="0.500" stop-color="#eef8d8"/><stop offset="0.550" stop-color="#f2f6c0"/><stop offset="0.625" stop-color="#f2e6a0"/><stop offset="0.688" stop-color="#f0d090"/><stop offset="0.725" stop-color="#f0c080"/><stop offset="0.775" stop-color="#f0a070"/><stop offset="0.812" stop-color="#ee9064"/><stop offset="0.863" stop-color="#e87858"/><stop offset="0.900" stop-color="#e86848"/><stop offset="0.938" stop-color="#e25a40"/><stop offset="0.988" stop-color="#dc3e30"/><stop offset="1.000" stop-color="#d83a2e"/></linearGradient></defs>
<rect x="285.20" y="305.30" width="5.00" height="72.50" fill="url(#lg)" />
<text x="295.80" y="308.90" font-size="9.2" text-anchor="start" font-weight="bold" fill="#000" >2</text>
<text x="295.80" y="326.90" font-size="9.2" text-anchor="start" font-weight="bold" fill="#000" >1</text>
<text x="295.80" y="344.90" font-size="9.2" text-anchor="start" font-weight="bold" fill="#000" >0</text>
<text x="294.40" y="362.90" font-size="9.2" text-anchor="start" font-weight="bold" fill="#000" >-1</text>
<text x="294.40" y="380.60" font-size="9.2" text-anchor="start" font-weight="bold" fill="#000" >-2</text>
<path d="M29.3 305.7H16.2V306.7H29.3M29.3 310.7H24.1V311.7H29.3M29.3 309.7H23.1V311.2H24.1M29.3 308.7H21.2V310.4H23.1M29.3 307.7H20.3V309.6H21.2M29.3 312.7H20.7V313.7H29.3M29.3 314.7H22.0V315.7H29.3M29.3 316.7H21.3V317.7H29.3M22.0 315.2H19.4V317.2H21.3M20.7 313.2H19.4V316.2H19.4M20.3 308.6H19.1V314.7H19.4M16.2 306.2H15.9V311.7H19.1M29.3 320.7H23.6V321.7H29.3M29.3 319.7H22.8V321.2H23.6M29.3 318.7H21.3V320.4H22.8M29.3 323.7H26.4V324.7H29.3M29.3 322.7H26.0V324.2H26.4M29.3 328.7H26.7V329.7H29.3M29.3 327.7H26.7V329.2H26.7M29.3 326.7H26.3V328.4H26.7M29.3 325.7H25.0V327.5H26.3M26.0 323.4H24.6V326.6H25.0M29.3 330.7H23.8V331.7H29.3M23.8 331.2H23.3V332.7H29.3M24.6 325.0H22.0V331.9H23.3M21.3 319.6H21.1V328.5H22.0M29.3 333.7H23.9V334.7H29.3M29.3 335.7H22.7V336.7H29.3M23.9 334.2H22.4V336.2H22.7M29.3 337.7H24.2V338.7H29.3M29.3 339.7H22.5V340.7H29.3M24.2 338.2H22.2V340.2H22.5M22.4 335.2H20.0V339.2H22.2M21.1 324.0H19.5V337.2H20.0M29.3 342.7H21.9V343.7H29.3M29.3 341.7H20.0V343.2H21.9M29.3 344.7H23.8V345.7H29.3M29.3 348.6H26.0V349.6H29.3M29.3 347.6H25.1V349.1H26.0M29.3 346.7H24.2V348.4H25.1M23.8 345.2H23.3V347.5H24.2M29.3 350.6H20.8V351.6H29.3M29.3 353.6H23.2V354.6H29.3M29.3 352.6H22.0V354.1H23.2M20.8 351.1H20.6V353.4H22.0M23.3 346.3H20.6V352.3H20.6M20.0 342.4H20.0V349.3H20.6M19.5 330.6H18.9V345.9H20.0M29.3 356.6H21.5V357.6H29.3M29.3 355.6H19.7V357.1H21.5M29.3 358.6H22.3V359.6H29.3M22.3 359.1H21.3V360.6H29.3M21.3 359.9H20.2V361.6H29.3M29.3 363.6H19.4V364.6H29.3M29.3 362.6H18.8V364.1H19.4M20.2 360.8H18.8V363.4H18.8M19.7 356.4H18.4V362.1H18.8M18.9 338.2H18.0V359.2H18.4M29.3 365.6H21.9V366.6H29.3M29.3 368.6H24.0V369.6H29.3M29.3 367.6H22.5V369.1H24.0M21.9 366.1H21.7V368.4H22.5M29.3 370.6H22.2V371.6H29.3M21.7 367.3H21.4V371.1H22.2M29.3 373.6H18.8V374.6H29.3M29.3 372.6H18.3V374.1H18.8M21.4 369.2H18.3V373.4H18.3M29.3 376.6H24.4V377.6H29.3M29.3 375.6H22.4V377.1H24.4M29.3 379.6H22.4V380.6H29.3M29.3 381.6H21.5V382.6H29.3M22.4 380.1H21.5V382.1H21.5M29.3 378.6H21.5V381.1H21.5M22.4 376.4H20.6V379.9H21.5M18.3 371.3H17.2V378.1H20.6M18.0 348.7H15.6V374.7H17.2M29.3 384.6H19.3V385.6H29.3M29.3 383.6H18.7V385.1H19.3M29.3 386.6H21.2V387.6H29.3M18.7 384.4H18.0V387.1H21.2M29.3 390.6H22.6V391.6H29.3M29.3 389.6H21.9V391.1H22.6M29.3 388.6H19.4V390.3H21.9M29.3 392.6H20.5V393.6H29.3M29.3 395.6H20.6V396.6H29.3M29.3 394.6H20.3V396.1H20.6M20.5 393.1H20.2V395.3H20.3M19.4 389.5H17.2V394.2H20.2M18.0 385.7H16.0V391.8H17.2M29.3 397.6H25.6V398.6H29.3M29.3 399.6H23.6V400.6H29.3M25.6 398.1H23.6V400.1H23.6M29.3 401.6H23.8V402.6H29.3M29.3 404.6H24.9V405.6H29.3M29.3 403.6H24.7V405.1H24.9M29.3 406.6H26.0V407.6H29.3M24.7 404.3H24.1V407.1H26.0M23.8 402.1H23.1V405.7H24.1M29.3 409.6H25.5V410.6H29.3M29.3 408.6H24.8V410.1H25.5M23.1 403.9H22.8V409.3H24.8M23.6 399.1H21.7V406.6H22.8M29.3 411.6H23.6V412.6H29.3M23.6 412.1H23.6V413.6H29.3M29.3 414.6H24.0V415.6H29.3M29.3 417.6H24.6V418.6H29.3M29.3 416.6H23.9V418.1H24.6M24.0 415.1H22.3V417.3H23.9M23.6 412.8H22.0V416.2H22.3M21.7 402.8H21.4V414.5H22.0M29.3 420.6H22.6V421.6H29.3M29.3 422.6H21.7V423.6H29.3M21.7 423.1H21.2V424.6H29.3M22.6 421.1H20.4V423.8H21.2M29.3 419.6H20.2V422.4H20.4M21.4 408.7H19.9V421.0H20.2M16.0 388.8H15.1V414.8H19.9M29.3 425.6H23.9V426.6H29.3M29.3 427.6H26.1V428.6H29.3M29.3 430.6H26.4V431.5H29.3M29.3 429.6H25.6V431.1H26.4M26.1 428.1H24.6V430.3H25.6M23.9 426.1H23.7V429.2H24.6M29.3 434.5H25.3V435.5H29.3M29.3 433.5H24.8V435.0H25.3M29.3 432.5H23.2V434.3H24.8M29.3 436.5H22.7V437.5H29.3M22.7 437.0H22.4V438.5H29.3M23.2 433.4H22.0V437.8H22.4M29.3 439.5H23.9V440.5H29.3M29.3 441.5H25.3V442.5H29.3M23.9 440.0H23.9V442.0H25.3M29.3 444.5H23.7V445.5H29.3M29.3 446.5H22.2V447.5H29.3M23.7 445.0H22.0V447.0H22.2M29.3 443.5H22.0V446.0H22.0M23.9 441.0H21.2V444.8H22.0M22.0 435.6H21.1V442.9H21.2M23.7 427.6H20.6V439.3H21.1M29.3 448.5H24.5V449.5H29.3M29.3 451.5H25.3V452.5H29.3M29.3 450.5H25.3V452.0H25.3M29.3 454.5H25.6V455.5H29.3M29.3 453.5H25.2V455.0H25.6M25.3 451.3H24.9V454.3H25.2M29.3 456.5H25.2V457.5H29.3M25.2 457.0H24.6V458.5H29.3M24.9 452.8H24.5V457.8H24.6M24.5 449.0H22.6V455.3H24.5M20.6 433.4H20.5V452.1H22.6M29.3 460.5H24.4V461.5H29.3M29.3 462.5H26.0V463.5H29.3M29.3 464.5H26.7V465.5H29.3M26.0 463.0H25.7V465.0H26.7M24.4 461.0H24.3V464.0H25.7M29.3 459.5H23.4V462.5H24.3M29.3 468.5H25.8V469.5H29.3M29.3 467.5H25.8V469.0H25.8M29.3 466.5H24.7V468.3H25.8M29.3 471.5H23.6V472.5H29.3M29.3 470.5H23.4V472.0H23.6M24.7 467.4H23.3V471.3H23.4M23.4 461.0H23.2V469.3H23.3M20.5 442.8H19.8V465.2H23.2M15.9 308.9H14.3V361.7H15.6M15.1 401.8H14.3V454.0H19.8M14.3 335.3H4.3V427.9H14.3" fill="none" stroke="#000" stroke-width="1.15"/>
<rect x="29.30" y="305.20" width="0.90" height="167.80" fill="#6a6a6a" />
<rect x="30.20" y="305.20" width="4.80" height="167.80" fill="#000" />
<rect x="30.20" y="308.00" width="4.80" height="0.90" fill="#2a2ad0" />
<rect x="30.20" y="324.50" width="4.80" height="1.20" fill="#2020ff" />
<rect x="30.20" y="326.00" width="4.80" height="3.70" fill="#10107a" />
<rect x="30.20" y="331.00" width="4.80" height="0.80" fill="#0a0a40" />
<rect x="30.20" y="359.90" width="4.80" height="0.70" fill="#14148a" />
<rect x="30.20" y="364.00" width="4.80" height="0.60" fill="#14148a" />
<rect x="30.20" y="370.80" width="4.80" height="0.90" fill="#2020b0" />
<rect x="30.20" y="384.30" width="4.80" height="0.60" fill="#0a0a40" />
<rect x="30.20" y="389.60" width="4.80" height="1.10" fill="#14146a" />
<rect x="30.20" y="395.00" width="4.80" height="0.70" fill="#701010" />
<rect x="30.20" y="401.00" width="4.80" height="2.30" fill="#e02020" />
<rect x="30.20" y="425.00" width="4.80" height="0.60" fill="#701010" />
<rect x="30.20" y="427.00" width="4.80" height="0.60" fill="#701010" />
<rect x="30.20" y="441.00" width="4.80" height="1.60" fill="#801414" />
<rect x="30.20" y="445.50" width="4.80" height="4.00" fill="#e02020" />
<rect x="30.20" y="459.80" width="4.80" height="1.10" fill="#d01a1a" />
<rect x="30.20" y="463.20" width="4.80" height="1.70" fill="#e02020" />
<rect x="30.20" y="470.40" width="4.80" height="0.60" fill="#601010" />
<text x="0" y="0" transform="translate(11.80,484.80) scale(1,1.18)" font-size="9.3" text-anchor="start" font-weight="bold" fill="#000" stroke="#000" stroke-width="0.25">DEG</text>
<line x1="37.20" y1="477.50" x2="158.60" y2="477.50" stroke="#8a8a8a" stroke-width="0.9" />
<line x1="163.00" y1="477.50" x2="283.80" y2="477.50" stroke="#8a8a8a" stroke-width="0.9" />
<text x="0" y="0" transform="translate(95.00,488.60) scale(1,1.12)" font-size="10" text-anchor="start" font-weight="bold" fill="#000" stroke="#000" stroke-width="0.25">WT</text>
<text x="0" y="0" transform="translate(214.50,488.40) scale(1,1.12)" font-size="10" text-anchor="start" font-weight="bold" fill="#000" stroke="#000" stroke-width="0.25">cKO</text>
<text x="345.30" y="257.50" font-size="16" text-anchor="start" font-weight="bold" fill="#000" >d</text>
<rect x="571.10" y="275.90" width="17.70" height="9.60" fill="#80ffff" />
<line x1="567.40" y1="280.70" x2="570.60" y2="280.70" stroke="#000" stroke-width="0.9" />
<text x="564.30" y="283.90" font-size="11.3" text-anchor="end" font-weight="bold" fill="#000" >DNA demethylation</text>
<rect x="571.10" y="290.84" width="20.80" height="9.60" fill="#80ffff" />
<line x1="567.40" y1="295.64" x2="570.60" y2="295.64" stroke="#000" stroke-width="0.9" />
<text x="564.30" y="298.84" font-size="11.3" text-anchor="end" font-weight="bold" fill="#000" >Osteoblast differentiation</text>
<rect x="571.10" y="305.78" width="22.70" height="9.60" fill="#80ffff" />
<line x1="567.40" y1="310.58" x2="570.60" y2="310.58" stroke="#000" stroke-width="0.9" />
<text x="564.30" y="313.78" font-size="11.3" text-anchor="end" font-weight="bold" fill="#000" >Protein-DNA complex assembly</text>
<rect x="571.10" y="320.72" width="34.50" height="9.60" fill="#80ffff" />
<line x1="567.40" y1="325.52" x2="570.60" y2="325.52" stroke="#000" stroke-width="0.9" />
<text x="564.30" y="328.72" font-size="11.3" text-anchor="end" font-weight="bold" fill="#000" >Bone mineralization</text>
<rect x="571.10" y="335.66" width="38.70" height="9.60" fill="#80ffff" />
<line x1="567.40" y1="340.46" x2="570.60" y2="340.46" stroke="#000" stroke-width="0.9" />
<text x="564.30" y="343.66" font-size="11.3" text-anchor="end" font-weight="bold" fill="#000" >Chromatin remodeling</text>
<rect x="571.10" y="350.60" width="46.90" height="9.60" fill="#80ffff" />
<line x1="567.40" y1="355.40" x2="570.60" y2="355.40" stroke="#000" stroke-width="0.9" />
<text x="564.30" y="358.60" font-size="11.3" text-anchor="end" font-weight="bold" fill="#000" >Ossification</text>
<rect x="571.10" y="365.54" width="91.10" height="9.60" fill="#80ffff" />
<line x1="567.40" y1="370.34" x2="570.60" y2="370.34" stroke="#000" stroke-width="0.9" />
<text x="564.30" y="373.54" font-size="11.3" text-anchor="end" font-weight="bold" fill="#000" >Regulation of mitotic nuclear division</text>
<line x1="570.60" y1="271.00" x2="570.60" y2="380.15" stroke="#000" stroke-width="1" />
<line x1="570.15" y1="379.70" x2="679.20" y2="379.70" stroke="#000" stroke-width="1" />
<line x1="570.60" y1="379.70" x2="570.60" y2="382.70" stroke="#000" stroke-width="1" />
<text x="570.60" y="395.40" font-size="10.6" text-anchor="middle" font-weight="bold" fill="#000" >0</text>
<line x1="597.60" y1="379.70" x2="597.60" y2="382.70" stroke="#000" stroke-width="1" />
<text x="597.60" y="395.40" font-size="10.6" text-anchor="middle" font-weight="bold" fill="#000" >2</text>
<line x1="624.60" y1="379.70" x2="624.60" y2="382.70" stroke="#000" stroke-width="1" />
<text x="624.60" y="395.40" font-size="10.6" text-anchor="middle" font-weight="bold" fill="#000" >4</text>
<line x1="651.60" y1="379.70" x2="651.60" y2="382.70" stroke="#000" stroke-width="1" />
<text x="651.60" y="395.40" font-size="10.6" text-anchor="middle" font-weight="bold" fill="#000" >6</text>
<line x1="678.60" y1="379.70" x2="678.60" y2="382.70" stroke="#000" stroke-width="1" />
<text x="678.60" y="395.40" font-size="10.6" text-anchor="middle" font-weight="bold" fill="#000" >8</text>
<text x="592.30" y="271.90" font-size="10.9" text-anchor="start" font-weight="bold" fill="#000" >Downregulation</text>
<rect x="570.50" y="425.20" width="26.50" height="9.60" fill="#eac866" />
<line x1="566.80" y1="430.00" x2="570.00" y2="430.00" stroke="#000" stroke-width="0.9" />
<text x="564.30" y="433.20" font-size="11.3" text-anchor="end" font-weight="bold" fill="#000" >Fatty acid biosynthetic process</text>
<rect x="570.50" y="440.12" width="32.00" height="9.60" fill="#eac866" />
<line x1="566.80" y1="444.92" x2="570.00" y2="444.92" stroke="#000" stroke-width="0.9" />
<text x="564.30" y="448.12" font-size="11.3" text-anchor="end" font-weight="bold" fill="#000" >IL-6 production</text>
<rect x="570.50" y="455.04" width="57.00" height="9.60" fill="#eac866" />
<line x1="566.80" y1="459.84" x2="570.00" y2="459.84" stroke="#000" stroke-width="0.9" />
<text x="564.30" y="463.04" font-size="11.3" text-anchor="end" font-weight="bold" fill="#000" >TNF superfamily cytokine production</text>
<rect x="570.50" y="469.96" width="74.00" height="9.60" fill="#eac866" />
<line x1="566.80" y1="474.76" x2="570.00" y2="474.76" stroke="#000" stroke-width="0.9" />
<text x="564.30" y="477.96" font-size="11.3" text-anchor="end" font-weight="bold" fill="#000" >ROS metabolic process</text>
<rect x="570.50" y="484.88" width="76.50" height="9.60" fill="#eac866" />
<line x1="566.80" y1="489.68" x2="570.00" y2="489.68" stroke="#000" stroke-width="0.9" />
<text x="564.30" y="492.88" font-size="11.3" text-anchor="end" font-weight="bold" fill="#000" >Glycolytic process</text>
<rect x="570.50" y="499.80" width="84.40" height="9.60" fill="#eac866" />
<line x1="566.80" y1="504.60" x2="570.00" y2="504.60" stroke="#000" stroke-width="0.9" />
<text x="564.30" y="507.80" font-size="11.3" text-anchor="end" font-weight="bold" fill="#000" >ATP metabolic process</text>
<rect x="570.50" y="514.72" width="89.30" height="9.60" fill="#eac866" />
<line x1="566.80" y1="519.52" x2="570.00" y2="519.52" stroke="#000" stroke-width="0.9" />
<text x="564.30" y="522.72" font-size="11.3" text-anchor="end" font-weight="bold" fill="#000" >Nicotinamide nucleotide metabolic process</text>
<line x1="570.00" y1="420.10" x2="570.00" y2="529.35" stroke="#000" stroke-width="1" />
<line x1="569.55" y1="528.90" x2="679.00" y2="528.90" stroke="#000" stroke-width="1" />
<line x1="570.00" y1="528.90" x2="570.00" y2="531.90" stroke="#000" stroke-width="1" />
<text x="570.00" y="544.60" font-size="10.6" text-anchor="middle" font-weight="bold" fill="#000" >0</text>
<line x1="591.80" y1="528.90" x2="591.80" y2="531.90" stroke="#000" stroke-width="1" />
<text x="591.80" y="544.60" font-size="10.6" text-anchor="middle" font-weight="bold" fill="#000" >2</text>
<line x1="613.60" y1="528.90" x2="613.60" y2="531.90" stroke="#000" stroke-width="1" />
<text x="613.60" y="544.60" font-size="10.6" text-anchor="middle" font-weight="bold" fill="#000" >4</text>
<line x1="635.40" y1="528.90" x2="635.40" y2="531.90" stroke="#000" stroke-width="1" />
<text x="635.40" y="544.60" font-size="10.6" text-anchor="middle" font-weight="bold" fill="#000" >6</text>
<line x1="657.20" y1="528.90" x2="657.20" y2="531.90" stroke="#000" stroke-width="1" />
<text x="657.20" y="544.60" font-size="10.6" text-anchor="middle" font-weight="bold" fill="#000" >8</text>
<line x1="679.00" y1="528.90" x2="679.00" y2="531.90" stroke="#000" stroke-width="1" />
<text x="679.00" y="544.60" font-size="10.6" text-anchor="middle" font-weight="bold" fill="#000" >10</text>
<text x="607.00" y="419.20" font-size="10.9" text-anchor="start" font-weight="bold" fill="#000" >Upregulation</text>
<text x="577.5" y="564.3" font-size="11" font-weight="bold">P-value (log<tspan font-size="7.6" dy="2.6">10</tspan><tspan dy="-2.6">10</tspan><tspan font-size="7.6" dy="-4.2">-X</tspan><tspan dy="4.2">)</tspan></text>
<text x="-0.60" y="573.10" font-size="16" text-anchor="start" font-weight="bold" fill="#000" >e</text>
<rect x="178.90" y="593.80" width="19.20" height="9.40" fill="#ef5f68" />
<line x1="175.40" y1="598.50" x2="178.40" y2="598.50" stroke="#000" stroke-width="0.9" />
<text x="172.60" y="602.40" font-size="11.3" text-anchor="end" font-weight="bold" fill="#000" >Mitophagy </text>
<rect x="178.90" y="608.04" width="20.20" height="9.40" fill="#ef5f68" />
<line x1="175.40" y1="612.74" x2="178.40" y2="612.74" stroke="#000" stroke-width="0.9" />
<text x="172.60" y="616.64" font-size="11.3" text-anchor="end" font-weight="bold" fill="#000" >Cellular senescence</text>
<rect x="178.90" y="622.28" width="23.90" height="9.40" fill="#ef5f68" />
<line x1="175.40" y1="626.98" x2="178.40" y2="626.98" stroke="#000" stroke-width="0.9" />
<text x="172.60" y="630.88" font-size="11.3" text-anchor="end" font-weight="bold" fill="#000" >Ferroptosis</text>
<rect x="178.90" y="636.52" width="27.10" height="9.40" fill="#ef5f68" />
<line x1="175.40" y1="641.22" x2="178.40" y2="641.22" stroke="#000" stroke-width="0.9" />
<text x="172.60" y="645.12" font-size="11.3" text-anchor="end" font-weight="bold" fill="#000" >Fatty acid metabolism</text>
<rect x="178.90" y="650.76" width="27.70" height="9.40" fill="#ef5f68" />
<line x1="175.40" y1="655.46" x2="178.40" y2="655.46" stroke="#000" stroke-width="0.9" />
<text x="172.60" y="659.36" font-size="11.3" text-anchor="end" font-weight="bold" fill="#000" >PPAR signaling pathway</text>
<rect x="178.90" y="665.00" width="35.90" height="9.40" fill="#ef5f68" />
<line x1="175.40" y1="669.70" x2="178.40" y2="669.70" stroke="#000" stroke-width="0.9" />
<text x="172.60" y="673.60" font-size="11.3" text-anchor="end" font-weight="bold" fill="#000" >TNF signaling pathway</text>
<rect x="178.90" y="679.24" width="34.40" height="9.40" fill="#ef5f68" />
<line x1="175.40" y1="683.94" x2="178.40" y2="683.94" stroke="#000" stroke-width="0.9" />
<text x="172.60" y="687.84" font-size="11.3" text-anchor="end" font-weight="bold" fill="#000" >Pyruvate metabolism</text>
<rect x="178.90" y="693.48" width="45.10" height="9.40" fill="#ef5f68" />
<line x1="175.40" y1="698.18" x2="178.40" y2="698.18" stroke="#000" stroke-width="0.9" />
<text x="172.60" y="702.08" font-size="11.3" text-anchor="end" font-weight="bold" fill="#000" >Osteoclast differentiation</text>
<rect x="178.90" y="707.72" width="86.60" height="9.40" fill="#ef5f68" />
<line x1="175.40" y1="712.42" x2="178.40" y2="712.42" stroke="#000" stroke-width="0.9" />
<text x="172.60" y="716.32" font-size="11.3" text-anchor="end" font-weight="bold" fill="#000" >Oxidative phosphorylation</text>
<rect x="178.90" y="721.96" width="88.00" height="9.40" fill="#ef5f68" />
<line x1="175.40" y1="726.66" x2="178.40" y2="726.66" stroke="#000" stroke-width="0.9" />
<text x="172.60" y="730.56" font-size="11.3" text-anchor="end" font-weight="bold" fill="#000" >Carbon metabolism</text>
<rect x="178.90" y="736.20" width="91.10" height="9.40" fill="#ef5f68" />
<line x1="175.40" y1="740.90" x2="178.40" y2="740.90" stroke="#000" stroke-width="0.9" />
<text x="172.60" y="744.80" font-size="11.3" text-anchor="end" font-weight="bold" fill="#000" >Glycolysis / Gluconeogenesis</text>
<line x1="178.40" y1="589.40" x2="178.40" y2="750.65" stroke="#000" stroke-width="1" />
<line x1="177.95" y1="750.20" x2="287.30" y2="750.20" stroke="#000" stroke-width="1" />
<line x1="178.40" y1="750.20" x2="178.40" y2="753.20" stroke="#000" stroke-width="1" />
<text x="178.40" y="765.60" font-size="10.6" text-anchor="middle" font-weight="bold" fill="#000" >0</text>
<line x1="205.60" y1="750.20" x2="205.60" y2="753.20" stroke="#000" stroke-width="1" />
<text x="205.60" y="765.60" font-size="10.6" text-anchor="middle" font-weight="bold" fill="#000" >2</text>
<line x1="232.80" y1="750.20" x2="232.80" y2="753.20" stroke="#000" stroke-width="1" />
<text x="232.80" y="765.60" font-size="10.6" text-anchor="middle" font-weight="bold" fill="#000" >4</text>
<line x1="260.00" y1="750.20" x2="260.00" y2="753.20" stroke="#000" stroke-width="1" />
<text x="260.00" y="765.60" font-size="10.6" text-anchor="middle" font-weight="bold" fill="#000" >6</text>
<line x1="287.20" y1="750.20" x2="287.20" y2="753.20" stroke="#000" stroke-width="1" />
<text x="287.20" y="765.60" font-size="10.6" text-anchor="middle" font-weight="bold" fill="#000" >8</text>
<text x="132.60" y="584.50" font-size="10.4" text-anchor="start" font-weight="bold" fill="#000" >KEGG pathway</text>
<text x="186.4" y="784.2" font-size="11" font-weight="bold">P-value (log<tspan font-size="7.6" dy="2.6">10</tspan><tspan dy="-2.6">10</tspan><tspan font-size="7.6" dy="-4.2">-x</tspan><tspan dy="4.2">)</tspan></text>
<text x="344.00" y="578.80" font-size="16" text-anchor="start" font-weight="bold" fill="#000" >f</text>
<line x1="436.80" y1="589.80" x2="436.80" y2="759.00" stroke="#d4d4d4" stroke-width="0.7" stroke-dasharray="1 0.6"/>
<line x1="466.60" y1="589.80" x2="466.60" y2="759.00" stroke="#d4d4d4" stroke-width="0.7" stroke-dasharray="1 0.6"/>
<line x1="495.60" y1="589.80" x2="495.60" y2="759.00" stroke="#d4d4d4" stroke-width="0.7" stroke-dasharray="1 0.6"/>
<line x1="525.40" y1="589.80" x2="525.40" y2="759.00" stroke="#d4d4d4" stroke-width="0.7" stroke-dasharray="1 0.6"/>
<line x1="554.80" y1="589.80" x2="554.80" y2="759.00" stroke="#d4d4d4" stroke-width="0.7" stroke-dasharray="1 0.6"/>
<line x1="584.40" y1="589.80" x2="584.40" y2="759.00" stroke="#d4d4d4" stroke-width="0.7" stroke-dasharray="1 0.6"/>
<line x1="613.50" y1="589.80" x2="613.50" y2="759.00" stroke="#d4d4d4" stroke-width="0.7" stroke-dasharray="1 0.6"/>
<line x1="644.30" y1="589.80" x2="644.30" y2="759.00" stroke="#d4d4d4" stroke-width="0.7" stroke-dasharray="1 0.6"/>
<rect x="556.20" y="590.90" width="69.70" height="11.40" fill="#f1e0d4" />
<rect x="556.20" y="602.30" width="69.70" height="11.60" fill="#c8eaf4" />
<text x="573.70" y="597.90" font-size="5.6" text-anchor="middle" font-weight="bold" fill="#000" >P value</text>
<text x="608.40" y="597.90" font-size="5.6" text-anchor="middle" font-weight="bold" fill="#000" >P adjusted</text>
<text x="573.70" y="609.60" font-size="5.6" text-anchor="middle" font-weight="bold" fill="#000" >0.0014</text>
<text x="608.60" y="609.60" font-size="5.6" text-anchor="middle" font-weight="bold" fill="#000" >0.0086</text>
<polyline points="407.9,668.9 409.8,670.0 411.7,671.1 413.6,672.4 415.8,669.5 417.0,663.8 419.6,653.5 421.0,654.1 423.0,652.4 424.4,643.2 426.1,638.7 428.4,637.0 429.0,633.0 431.8,630.1 433.5,624.4 435.3,620.4 437.0,618.1 437.5,611.5 439.8,612.4 441.5,606.7 442.7,602.1 444.4,596.4 447.3,597.0 450.1,597.8 451.8,594.1 453.5,593.9 456.4,594.7 459.2,595.8 462.1,596.4 464.4,597.2 466.7,596.1 468.7,595.9 470.7,596.4 473.9,597.6 475.9,598.7 477.9,599.2 481.0,598.8 482.6,598.6 484.2,599.3 485.8,599.5 487.8,600.1 489.7,599.6 491.7,600.2 494.0,601.6 496.3,602.9 498.1,603.4 500.0,603.6 501.8,604.3 503.7,605.6 505.5,606.8 508.1,607.1 509.8,608.2 511.4,608.9 513.1,610.1 514.7,610.8 516.6,611.7 518.4,613.0 520.2,614.0 522.1,615.6 523.9,617.2 525.8,618.0 527.4,619.0 529.1,620.1 530.8,620.6 532.4,621.9 534.1,622.2 535.7,623.5 537.7,624.6 539.7,626.3 541.6,627.7 543.6,628.8 545.4,629.8 547.1,630.6 548.9,631.8 550.6,632.9 552.4,634.0 554.1,635.3 556.1,636.8 558.0,637.4 560.0,638.9 562.4,641.1 564.8,642.6 566.5,643.9 568.3,644.1 570.0,645.5 571.6,646.5 573.3,647.7 575.0,648.4 576.6,650.0 578.6,650.7 580.5,652.0 582.5,652.4 584.5,652.8 586.4,654.0 588.4,654.6 590.0,655.2 591.7,656.6 593.4,657.9 595.0,658.5 597.1,659.3 599.1,660.3 601.2,661.8 602.9,662.2 604.5,663.4 606.2,664.2 607.8,664.6 609.5,665.5 611.1,666.7 614.0,665.0 616.0,666.2 618.0,667.5 619.6,668.7 621.3,669.1 622.9,670.0 624.9,670.7 626.8,671.8 628.8,672.5 631.0,670.0 633.8,665.0 634.7,664.2 636.4,665.2 638.0,667.0 639.8,668.7 641.6,670.3 643.0,667.5" fill="none" stroke="#7ff27f" stroke-width="1"/>
<text x="402.60" y="595.60" font-size="8.7" text-anchor="end" font-weight="bold" fill="#000" >0.5</text>
<text x="402.60" y="610.30" font-size="8.7" text-anchor="end" font-weight="bold" fill="#000" >0.4</text>
<text x="402.60" y="625.70" font-size="8.7" text-anchor="end" font-weight="bold" fill="#000" >0.3</text>
<text x="402.60" y="640.90" font-size="8.7" text-anchor="end" font-weight="bold" fill="#000" >0.2</text>
<text x="402.60" y="656.40" font-size="8.7" text-anchor="end" font-weight="bold" fill="#000" >0.1</text>
<text x="402.60" y="672.00" font-size="8.7" text-anchor="end" font-weight="bold" fill="#000" >0.0</text>
<text x="0" y="0" font-size="8.7" font-weight="bold" text-anchor="middle" transform="translate(383.1,632.5) rotate(-90)">Enrichment score</text>
<rect x="413.10" y="676.80" width="0.90" height="20.60" fill="#000" fill-opacity="0.25"/>
<rect x="414.50" y="676.80" width="0.90" height="20.60" fill="#000" fill-opacity="0.3"/>
<rect x="415.40" y="676.80" width="3.80" height="20.60" fill="#000" fill-opacity="0.6"/>
<rect x="420.70" y="676.80" width="0.60" height="20.60" fill="#000" fill-opacity="0.45"/>
<rect x="422.00" y="676.80" width="1.00" height="20.60" fill="#000" fill-opacity="0.3"/>
<rect x="423.00" y="676.80" width="4.30" height="20.60" fill="#000" fill-opacity="0.55"/>
<rect x="428.20" y="676.80" width="1.50" height="20.60" fill="#000" fill-opacity="0.45"/>
<rect x="430.10" y="676.80" width="3.40" height="20.60" fill="#000" fill-opacity="0.4"/>
<rect x="434.90" y="676.80" width="2.80" height="20.60" fill="#000" fill-opacity="0.65"/>
<rect x="439.60" y="676.80" width="4.30" height="20.60" fill="#000" fill-opacity="0.6"/>
<rect x="446.70" y="676.80" width="1.00" height="20.60" fill="#000" fill-opacity="0.25"/>
<rect x="449.60" y="676.80" width="2.80" height="20.60" fill="#000" fill-opacity="0.35"/>
<rect x="455.30" y="676.80" width="1.40" height="20.60" fill="#000" fill-opacity="0.25"/>
<rect x="458.60" y="676.80" width="1.40" height="20.60" fill="#000" fill-opacity="0.4"/>
<rect x="461.50" y="676.80" width="0.90" height="20.60" fill="#000" fill-opacity="0.25"/>
<rect x="464.30" y="676.80" width="2.40" height="20.60" fill="#000" fill-opacity="0.4"/>
<rect x="467.80" y="676.80" width="1.00" height="20.60" fill="#000" fill-opacity="0.3"/>
<rect x="470.20" y="676.80" width="0.70" height="20.60" fill="#000" fill-opacity="0.45"/>
<rect x="473.10" y="676.80" width="1.20" height="20.60" fill="#000" fill-opacity="0.45"/>
<rect x="477.80" y="676.80" width="1.00" height="20.60" fill="#000" fill-opacity="0.6"/>
<rect x="479.70" y="676.80" width="1.40" height="20.60" fill="#000" fill-opacity="0.25"/>
<rect x="481.60" y="676.80" width="4.30" height="20.60" fill="#000" fill-opacity="0.22"/>
<rect x="488.20" y="676.80" width="3.80" height="20.60" fill="#000" fill-opacity="0.3"/>
<rect x="495.80" y="676.80" width="2.40" height="20.60" fill="#000" fill-opacity="0.35"/>
<rect x="501.00" y="676.80" width="1.00" height="20.60" fill="#000" fill-opacity="0.45"/>
<rect x="505.30" y="676.80" width="1.40" height="20.60" fill="#000" fill-opacity="0.55"/>
<rect x="508.20" y="676.80" width="0.60" height="20.60" fill="#000" fill-opacity="0.45"/>
<rect x="512.00" y="676.80" width="0.90" height="20.60" fill="#000" fill-opacity="0.3"/>
<rect x="517.00" y="676.80" width="0.80" height="20.60" fill="#000" fill-opacity="0.45"/>
<rect x="525.90" y="676.80" width="1.80" height="20.60" fill="#000" fill-opacity="0.6"/>
<rect x="533.00" y="676.80" width="1.00" height="20.60" fill="#000" fill-opacity="0.45"/>
<rect x="542.10" y="676.80" width="3.80" height="20.60" fill="#000" fill-opacity="0.3"/>
<rect x="557.70" y="676.80" width="1.20" height="20.60" fill="#000" fill-opacity="0.5"/>
<rect x="564.10" y="676.80" width="1.70" height="20.60" fill="#000" fill-opacity="0.3"/>
<rect x="567.70" y="676.80" width="0.90" height="20.60" fill="#000" fill-opacity="0.25"/>
<rect x="577.00" y="676.80" width="0.80" height="20.60" fill="#000" fill-opacity="0.45"/>
<rect x="581.90" y="676.80" width="0.80" height="20.60" fill="#000" fill-opacity="0.3"/>
<rect x="585.00" y="676.80" width="0.90" height="20.60" fill="#000" fill-opacity="0.6"/>
<rect x="587.70" y="676.80" width="1.10" height="20.60" fill="#000" fill-opacity="0.45"/>
<rect x="601.10" y="676.80" width="0.80" height="20.60" fill="#000" fill-opacity="0.45"/>
<rect x="605.10" y="676.80" width="0.80" height="20.60" fill="#000" fill-opacity="0.4"/>
<rect x="611.10" y="676.80" width="0.70" height="20.60" fill="#000" fill-opacity="0.45"/>
<rect x="613.00" y="676.80" width="0.70" height="20.60" fill="#000" fill-opacity="0.6"/>
<rect x="623.00" y="676.80" width="0.70" height="20.60" fill="#000" fill-opacity="0.45"/>
<rect x="629.10" y="676.80" width="5.20" height="20.60" fill="#000" fill-opacity="0.25"/>
<rect x="641.90" y="676.80" width="1.00" height="20.60" fill="#000" fill-opacity="0.5"/>
<rect x="407.50" y="697.40" width="61.85" height="8.80" fill="#dd3a36" />
<rect x="469.30" y="697.40" width="64.95" height="8.80" fill="#ee6b57" />
<rect x="534.20" y="697.40" width="32.55" height="8.80" fill="#eea58e" />
<rect x="566.70" y="697.40" width="25.95" height="8.80" fill="#f6e3d7" />
<rect x="592.60" y="697.40" width="17.35" height="8.80" fill="#eaf1fc" />
<rect x="609.90" y="697.40" width="6.95" height="8.80" fill="#bfdcea" />
<rect x="616.80" y="697.40" width="9.95" height="8.80" fill="#84bddc" />
<rect x="626.70" y="697.40" width="11.05" height="8.80" fill="#5598c9" />
<rect x="637.70" y="697.40" width="6.45" height="8.80" fill="#3466ac" />
<path d="M407.6 742.2 L407.6 706.5 L407.9 718 L408.2 724 L409 731.7 L410.2 733.7 L412.7 735.2 L416.5 736.5 L422 737.8 L430 738.7 L440 739.3 L466 740.0 L480 740.4 L500 740.9 L520 741.5 L536 742.2 Z" fill="#c3c3c3"/>
<path d="M536 742.2 L536 742.2 L555 743.0 L585 743.9 L600 744.4 L620 745.4 L630 746.2 L638 747.5 L641 748.8 L643 750.8 L643.8 753.5 L644.2 757 L644.2 742.2 Z" fill="#c3c3c3"/>
<line x1="407.60" y1="742.20" x2="644.20" y2="742.20" stroke="#c8c8c8" stroke-width="0.5" />
<line x1="407.50" y1="589.80" x2="407.50" y2="760.20" stroke="#8c8c8c" stroke-width="1.2" />
<line x1="406.90" y1="759.60" x2="644.30" y2="759.60" stroke="#a8a8a8" stroke-width="1.6" />
<text x="402.20" y="709.10" font-size="8.7" text-anchor="end" font-weight="bold" fill="#000" >8</text>
<text x="402.20" y="728.10" font-size="8.7" text-anchor="end" font-weight="bold" fill="#000" >4</text>
<text x="402.20" y="746.30" font-size="8.7" text-anchor="end" font-weight="bold" fill="#000" >0</text>
<text x="402.20" y="765.00" font-size="8.7" text-anchor="end" font-weight="bold" fill="#000" >-4</text>
<text x="0" y="0" font-size="8.7" font-weight="bold" text-anchor="middle" transform="translate(383.1,728.5) rotate(-90)">Ranked list metric</text>
<text x="463.70" y="770.60" font-size="8.7" text-anchor="middle" font-weight="bold" fill="#000" >3000</text>
<text x="521.70" y="770.60" font-size="8.7" text-anchor="middle" font-weight="bold" fill="#000" >6000</text>
<text x="582.10" y="770.60" font-size="8.7" text-anchor="middle" font-weight="bold" fill="#000" >9000</text>
<text x="639.20" y="770.60" font-size="8.7" text-anchor="middle" font-weight="bold" fill="#000" >12000</text>
<text x="486.30" y="783.70" font-size="8.7" text-anchor="start" font-weight="bold" fill="#000" >Rank in ordered dataset</text>
</svg>
</body></html>
